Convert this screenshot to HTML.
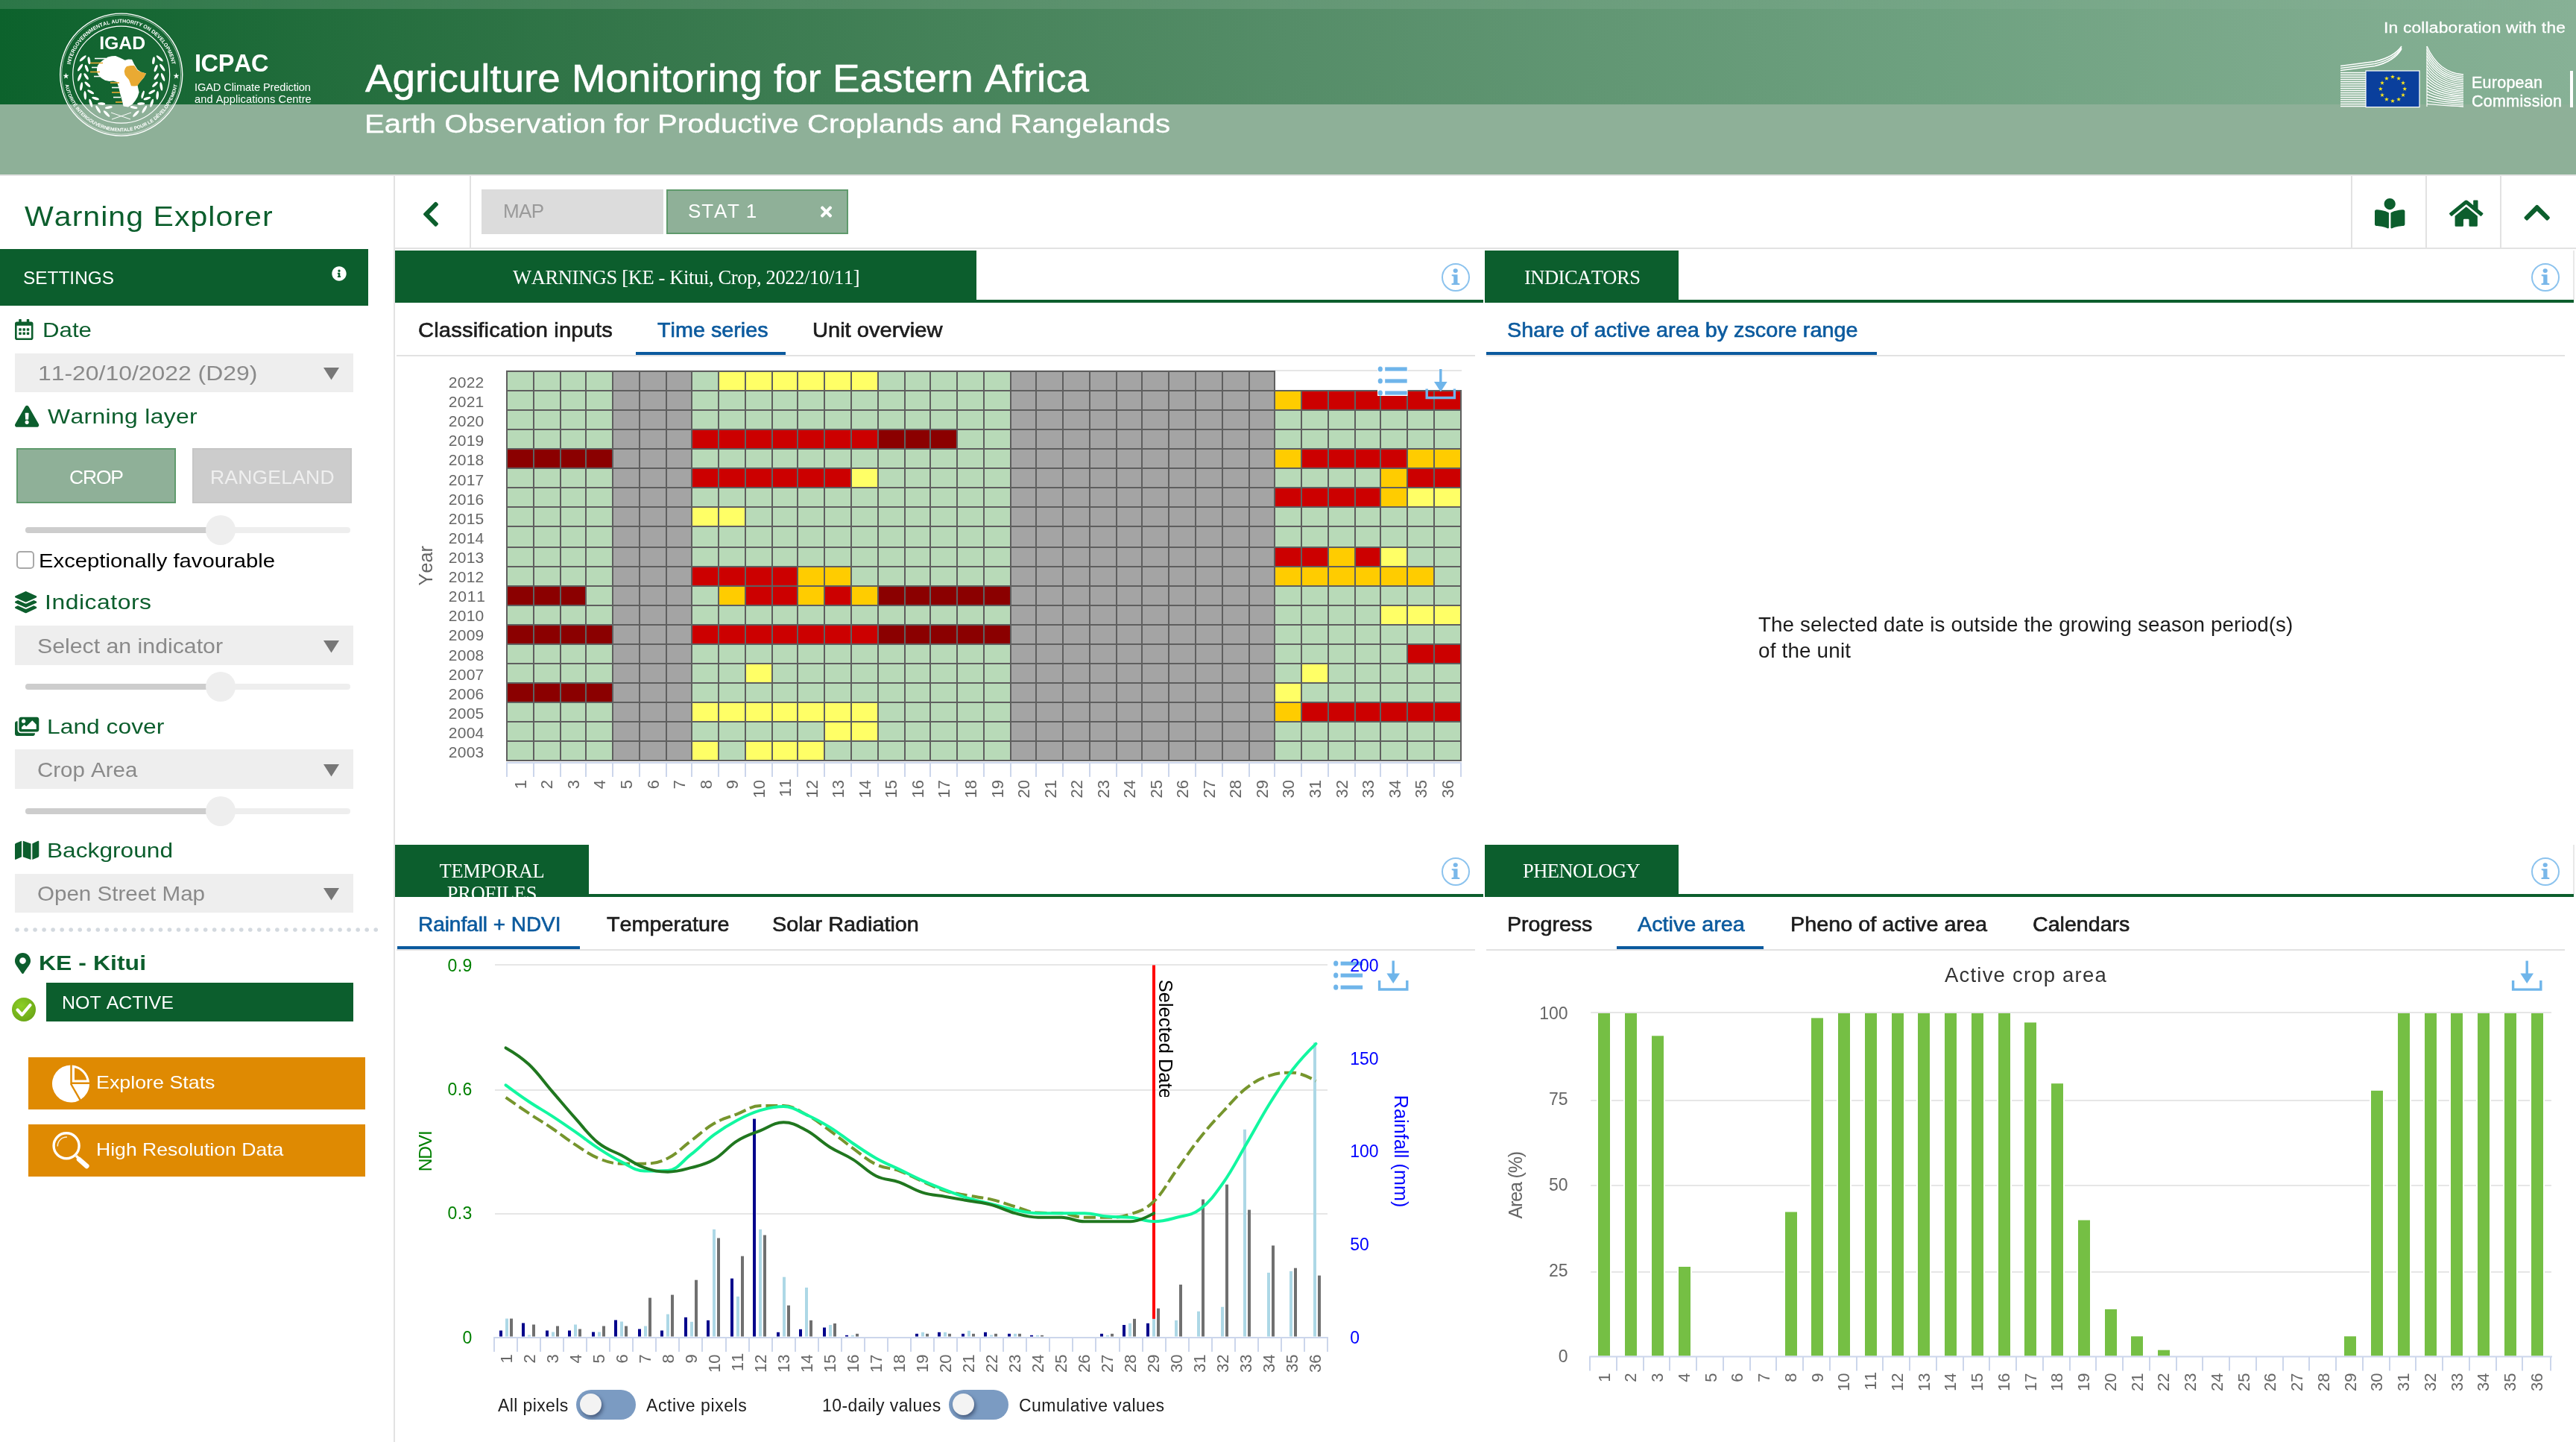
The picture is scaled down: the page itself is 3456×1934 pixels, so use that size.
<!DOCTYPE html>
<html lang="en"><head><meta charset="utf-8"><title>Agriculture Monitoring for Eastern Africa - Warning Explorer</title><style>
html,body{margin:0;padding:0;background:#fff;}
body{width:3456px;height:1934px;overflow:hidden;position:relative;font-family:"Liberation Sans",sans-serif;}
.t{position:absolute;white-space:nowrap;line-height:normal;font-kerning:none;will-change:transform;}
.b{position:absolute;}
svg{position:absolute;overflow:visible;will-change:transform;}
svg text{font-family:"Liberation Sans",sans-serif;font-kerning:none;}
</style></head><body>
<div class="b" id="header" style="left:0;top:0;width:3456px;height:234px;background:#8eb098;"></div>
<div class="b" style="left:0;top:0;width:3456px;height:140px;background:linear-gradient(to right,rgb(12,98,44) 0%,rgb(34,109,60) 12.5%,rgb(53,119,75) 25%,rgb(70,131,90) 37.5%,rgb(85,141,104) 50%,rgb(98,151,116) 62.5%,rgb(110,161,128) 75%,rgb(123,169,139) 87.5%,rgb(135,177,150) 100%);"></div>
<div class="b" style="left:0;top:0;width:3456px;height:12px;background:linear-gradient(to right,rgba(255,255,255,0.13) 0%,rgba(255,255,255,0.10) 25%,rgba(255,255,255,0.085) 50%,rgba(255,255,255,0.04) 78%,rgba(255,255,255,0) 100%);"></div>
<div class="b" style="left:0;top:234px;width:3456px;height:2px;background:#e3e3e3;"></div>
<svg style="left:0;top:0" width="520" height="234" viewBox="0 0 520 234"><circle cx="162.7" cy="100.1" r="82" fill="none" stroke="#fff" stroke-width="1.4"/><circle cx="162.7" cy="100.1" r="80" fill="none" stroke="#fff" stroke-width="0.7" opacity="0.8"/><circle cx="162.7" cy="100.1" r="65" fill="none" stroke="#fff" stroke-width="1.2"/><defs><path id="arcTop" d="M 93.41 94.65 A 69.5 69.5 0 0 1 231.99 94.65"/><path id="arcBot" d="M 86.64 106.09 A 76.3 76.3 0 0 0 238.76 106.09"/></defs><text font-size="7.0" font-weight="700" fill="#fff"><textPath href="#arcTop" startOffset="50%" text-anchor="middle">INTERGOVERNMENTAL AUTHORITY ON DEVELOPMENT</textPath></text><text font-size="6.45" font-weight="700" fill="#fff"><textPath href="#arcBot" startOffset="50%" text-anchor="middle">AUTORITÉ INTERGOUVERNEMENTALE POUR LE DÉVELOPPEMENT</textPath></text><polygon points="88.50,97.80 89.49,100.64 92.49,100.70 90.10,102.52 90.97,105.40 88.50,103.68 86.03,105.40 86.90,102.52 84.51,100.70 87.51,100.64" fill="#fff"/><polygon points="236.50,97.80 237.49,100.64 240.49,100.70 238.10,102.52 238.97,105.40 236.50,103.68 234.03,105.40 234.90,102.52 232.51,100.70 235.51,100.64" fill="#fff"/><text x="164.2" y="66.4" font-size="23.5" font-weight="700" fill="#fff" text-anchor="middle" textLength="62" lengthAdjust="spacingAndGlyphs">IGAD</text><path d="M144.6,76.5 L150,75.2 L155,75 L161,77.5 L167.7,80.7 L172,79.5 L177,79.7 L180,86 L184.5,93.3 L189,96.5 L196,98.5 L193,104 L188.7,109 L184.5,114 L185.5,119 L186.6,123.7 L184.5,130 L181.5,135 L178,139.4 L172,143.6 L165.6,142.5 L163.5,134 L161,125 L159.3,117.4 L157,110 L152,108.6 L146.7,109 L141,107.8 L136,104.8 L132,100.5 L130,96.4 L130,92 L131,88 L134,84 L138,80.7 Z" fill="#fff"/><path d="M166.7,95.4 L168,91.5 L170,89 L175,88 L180,88 L184.5,94.3 L189,96.5 L196,98.5 L193,104 L188.7,109 L184.5,115 L180,115.6 L176,115.3 L174.5,111 L173,107 L170,103.5 L167.7,100.6 Z" fill="#e9aa33"/><path d="M192.5,121.5 L194,122.5 L193.2,127 L191.6,131.5 L189.8,132.5 L189.3,129 L190.5,125 Z" fill="#fff"/><line x1="127" y1="78.5" x2="142" y2="78.5" stroke="#fff" stroke-width="1.6"/><line x1="121" y1="84.5" x2="138" y2="84.5" stroke="#e9aa33" stroke-width="1.6"/><line x1="123" y1="90.5" x2="136" y2="90.5" stroke="#fff" stroke-width="1.6"/><line x1="121" y1="96.5" x2="134" y2="96.5" stroke="#e9aa33" stroke-width="1.6"/><line x1="126" y1="102.5" x2="138" y2="102.5" stroke="#fff" stroke-width="1.6"/><line x1="148" y1="111" x2="160" y2="111" stroke="#e9aa33" stroke-width="1.6"/><line x1="150" y1="117.5" x2="161" y2="117.5" stroke="#fff" stroke-width="1.6"/><line x1="150" y1="124" x2="161" y2="124" stroke="#e9aa33" stroke-width="1.6"/><line x1="152" y1="130.5" x2="162" y2="130.5" stroke="#fff" stroke-width="1.6"/><line x1="155" y1="137" x2="164" y2="137" stroke="#e9aa33" stroke-width="1.6"/><ellipse cx="143.0" cy="152.5" rx="5.8" ry="1.75" fill="#fff" transform="rotate(-134 143.0 152.5)"/><ellipse cx="145.8" cy="144.1" rx="5.0" ry="1.75" fill="#fff" transform="rotate(-190 145.8 144.1)"/><ellipse cx="131.6" cy="146.6" rx="5.8" ry="1.75" fill="#fff" transform="rotate(-121 131.6 146.6)"/><ellipse cx="136.2" cy="139.1" rx="5.0" ry="1.75" fill="#fff" transform="rotate(-177 136.2 139.1)"/><ellipse cx="121.8" cy="138.3" rx="5.8" ry="1.75" fill="#fff" transform="rotate(-108 121.8 138.3)"/><ellipse cx="128.0" cy="132.0" rx="5.0" ry="1.75" fill="#fff" transform="rotate(-164 128.0 132.0)"/><ellipse cx="114.2" cy="127.9" rx="5.8" ry="1.75" fill="#fff" transform="rotate(-94 114.2 127.9)"/><ellipse cx="121.6" cy="123.2" rx="5.0" ry="1.75" fill="#fff" transform="rotate(-150 121.6 123.2)"/><ellipse cx="109.1" cy="116.1" rx="5.8" ry="1.75" fill="#fff" transform="rotate(-81 109.1 116.1)"/><ellipse cx="117.4" cy="113.2" rx="5.0" ry="1.75" fill="#fff" transform="rotate(-137 117.4 113.2)"/><ellipse cx="106.8" cy="103.5" rx="5.8" ry="1.75" fill="#fff" transform="rotate(-68 106.8 103.5)"/><ellipse cx="115.6" cy="102.5" rx="5.0" ry="1.75" fill="#fff" transform="rotate(-124 115.6 102.5)"/><ellipse cx="107.6" cy="90.6" rx="5.8" ry="1.75" fill="#fff" transform="rotate(-55 107.6 90.6)"/><ellipse cx="116.3" cy="91.7" rx="5.0" ry="1.75" fill="#fff" transform="rotate(-111 116.3 91.7)"/><ellipse cx="111.2" cy="78.3" rx="5.8" ry="1.75" fill="#fff" transform="rotate(-42 111.2 78.3)"/><ellipse cx="119.4" cy="81.3" rx="5.0" ry="1.75" fill="#fff" transform="rotate(-98 119.4 81.3)"/><ellipse cx="182.4" cy="152.5" rx="5.8" ry="1.75" fill="#fff" transform="rotate(314 182.4 152.5)"/><ellipse cx="179.6" cy="144.1" rx="5.0" ry="1.75" fill="#fff" transform="rotate(370 179.6 144.1)"/><ellipse cx="193.8" cy="146.6" rx="5.8" ry="1.75" fill="#fff" transform="rotate(301 193.8 146.6)"/><ellipse cx="189.2" cy="139.1" rx="5.0" ry="1.75" fill="#fff" transform="rotate(357 189.2 139.1)"/><ellipse cx="203.6" cy="138.3" rx="5.8" ry="1.75" fill="#fff" transform="rotate(288 203.6 138.3)"/><ellipse cx="197.4" cy="132.0" rx="5.0" ry="1.75" fill="#fff" transform="rotate(344 197.4 132.0)"/><ellipse cx="211.2" cy="127.9" rx="5.8" ry="1.75" fill="#fff" transform="rotate(274 211.2 127.9)"/><ellipse cx="203.8" cy="123.2" rx="5.0" ry="1.75" fill="#fff" transform="rotate(330 203.8 123.2)"/><ellipse cx="216.3" cy="116.1" rx="5.8" ry="1.75" fill="#fff" transform="rotate(261 216.3 116.1)"/><ellipse cx="208.0" cy="113.2" rx="5.0" ry="1.75" fill="#fff" transform="rotate(317 208.0 113.2)"/><ellipse cx="218.6" cy="103.5" rx="5.8" ry="1.75" fill="#fff" transform="rotate(248 218.6 103.5)"/><ellipse cx="209.8" cy="102.5" rx="5.0" ry="1.75" fill="#fff" transform="rotate(304 209.8 102.5)"/><ellipse cx="217.8" cy="90.6" rx="5.8" ry="1.75" fill="#fff" transform="rotate(235 217.8 90.6)"/><ellipse cx="209.1" cy="91.7" rx="5.0" ry="1.75" fill="#fff" transform="rotate(291 209.1 91.7)"/><ellipse cx="214.2" cy="78.3" rx="5.8" ry="1.75" fill="#fff" transform="rotate(222 214.2 78.3)"/><ellipse cx="206.0" cy="81.3" rx="5.0" ry="1.75" fill="#fff" transform="rotate(278 206.0 81.3)"/><path d="M150,160 L176,151 M175,160 L149,151" stroke="#fff" stroke-width="1" fill="none"/></svg>
<span class="t" style="left:261.0px;top:67.2px;font-size:32.5px;color:#fff;letter-spacing:-0.43px;font-weight:700;">ICPAC</span>
<span class="t" style="left:261.0px;top:109.2px;font-size:14.6px;color:#fff;letter-spacing:-0.10px;">IGAD Climate Prediction</span>
<span class="t" style="left:261.0px;top:125.1px;font-size:14.6px;color:#fff;letter-spacing:0.08px;">and Applications Centre</span>
<span class="t" style="left:489.8px;top:75.8px;font-size:51px;color:#fff;transform:scaleX(1.0739);transform-origin:0 0;-webkit-text-stroke:0.5px #fff;">Agriculture Monitoring for Eastern Africa</span>
<span class="t" style="left:488.5px;top:145.5px;font-size:35.5px;color:#fff;transform:scaleX(1.1318);transform-origin:0 0;-webkit-text-stroke:0.35px #fff;">Earth Observation for Productive Croplands and Rangelands</span>
<span class="t" style="left:3198.0px;top:25.5px;font-size:20px;color:#fff;letter-spacing:0.16px;transform:scaleX(1.1400);transform-origin:0 0;-webkit-text-stroke:0.3px #fff;">In collaboration with the</span>
<span class="t" style="left:3316.0px;top:98.5px;font-size:21.5px;color:#fff;letter-spacing:0.25px;-webkit-text-stroke:0.45px #fff;">European</span>
<span class="t" style="left:3316.0px;top:124.1px;font-size:21.5px;color:#fff;letter-spacing:0.30px;-webkit-text-stroke:0.45px #fff;">Commission</span>
<div class="b" style="left:3448px;top:95px;width:4px;height:49px;background:#fff;"></div>
<svg style="left:3130px;top:55px" width="190" height="95" viewBox="3130 55 190 95"><path d="M3140,88.5 L3186,82.5 Q3212,76.5 3222,62.0" stroke="#fff" stroke-width="1.5" fill="none"/><path d="M3140,91.5 L3186,85.5 Q3212,79.5 3222,63.8" stroke="#fff" stroke-width="1.5" fill="none"/><path d="M3140,94.5 L3186,88.5 Q3212,82.5 3222,65.5" stroke="#fff" stroke-width="1.5" fill="none"/><path d="M3140,97.5 L3174,97.5" stroke="#fff" stroke-width="1.7" fill="none"/><path d="M3140,100.5 L3174,100.5" stroke="#fff" stroke-width="1.7" fill="none"/><path d="M3140,103.5 L3174,103.5" stroke="#fff" stroke-width="1.7" fill="none"/><path d="M3140,106.5 L3174,106.5" stroke="#fff" stroke-width="1.7" fill="none"/><path d="M3140,109.5 L3174,109.5" stroke="#fff" stroke-width="1.7" fill="none"/><path d="M3140,112.5 L3174,112.5" stroke="#fff" stroke-width="1.7" fill="none"/><path d="M3140,115.5 L3174,115.5" stroke="#fff" stroke-width="1.7" fill="none"/><path d="M3140,118.5 L3174,118.5" stroke="#fff" stroke-width="1.7" fill="none"/><path d="M3140,121.5 L3174,121.5" stroke="#fff" stroke-width="1.7" fill="none"/><path d="M3140,124.5 L3174,124.5" stroke="#fff" stroke-width="1.7" fill="none"/><path d="M3140,127.5 L3174,127.5" stroke="#fff" stroke-width="1.7" fill="none"/><path d="M3140,130.5 L3174,130.5" stroke="#fff" stroke-width="1.7" fill="none"/><path d="M3140,133.5 L3174,133.5" stroke="#fff" stroke-width="1.7" fill="none"/><path d="M3140,136.5 L3174,136.5" stroke="#fff" stroke-width="1.7" fill="none"/><path d="M3140,139.5 L3174,139.5" stroke="#fff" stroke-width="1.7" fill="none"/><path d="M3140,142.5 L3174,142.5" stroke="#fff" stroke-width="1.7" fill="none"/><path d="M3256,62.0 Q3272,98.0 3305,100.0" stroke="#fff" stroke-width="1.4" fill="none"/><path d="M3256,66.3 Q3272,100.4 3305,102.4" stroke="#fff" stroke-width="1.4" fill="none"/><path d="M3256,70.6 Q3272,102.8 3305,104.8" stroke="#fff" stroke-width="1.4" fill="none"/><path d="M3256,74.9 Q3272,105.2 3305,107.2" stroke="#fff" stroke-width="1.4" fill="none"/><path d="M3256,79.2 Q3272,107.6 3305,109.6" stroke="#fff" stroke-width="1.4" fill="none"/><path d="M3256,83.5 Q3272,110.0 3305,112.0" stroke="#fff" stroke-width="1.4" fill="none"/><path d="M3256,87.8 Q3272,112.4 3305,114.4" stroke="#fff" stroke-width="1.4" fill="none"/><path d="M3256,92.1 Q3272,114.8 3305,116.8" stroke="#fff" stroke-width="1.4" fill="none"/><path d="M3256,96.4 Q3272,117.2 3305,119.2" stroke="#fff" stroke-width="1.4" fill="none"/><path d="M3256,100.7 Q3272,119.6 3305,121.6" stroke="#fff" stroke-width="1.4" fill="none"/><path d="M3256,105.0 Q3272,122.0 3305,124.0" stroke="#fff" stroke-width="1.4" fill="none"/><path d="M3256,109.3 Q3272,124.4 3305,126.4" stroke="#fff" stroke-width="1.4" fill="none"/><path d="M3256,113.6 Q3272,126.8 3305,128.8" stroke="#fff" stroke-width="1.4" fill="none"/><path d="M3256,117.9 Q3272,129.2 3305,131.2" stroke="#fff" stroke-width="1.4" fill="none"/><path d="M3256,122.2 Q3272,131.6 3305,133.6" stroke="#fff" stroke-width="1.4" fill="none"/><path d="M3256,126.5 Q3272,134.0 3305,136.0" stroke="#fff" stroke-width="1.4" fill="none"/><path d="M3256,130.8 Q3272,136.4 3305,138.4" stroke="#fff" stroke-width="1.4" fill="none"/><path d="M3256,135.1 Q3272,138.8 3305,140.8" stroke="#fff" stroke-width="1.4" fill="none"/><path d="M3256,139.4 Q3272,141.0 3305,143.0" stroke="#fff" stroke-width="1.4" fill="none"/><path d="M3256,62 L3256,143" stroke="#fff" stroke-width="1.2"/><rect x="3174" y="95" width="72" height="48.6" fill="#0a3f9c" stroke="#fff" stroke-width="1.2"/><polygon points="3210.00,100.00 3210.73,102.10 3212.95,102.14 3211.18,103.48 3211.82,105.61 3210.00,104.34 3208.18,105.61 3208.82,103.48 3207.05,102.14 3209.27,102.10" fill="#ffe81a"/><polygon points="3218.10,102.17 3218.83,104.27 3221.05,104.31 3219.28,105.65 3219.92,107.78 3218.10,106.51 3216.28,107.78 3216.92,105.65 3215.15,104.31 3217.37,104.27" fill="#ffe81a"/><polygon points="3224.03,108.10 3224.76,110.20 3226.98,110.24 3225.21,111.58 3225.85,113.71 3224.03,112.44 3222.21,113.71 3222.85,111.58 3221.08,110.24 3223.30,110.20" fill="#ffe81a"/><polygon points="3226.20,116.20 3226.93,118.30 3229.15,118.34 3227.38,119.68 3228.02,121.81 3226.20,120.54 3224.38,121.81 3225.02,119.68 3223.25,118.34 3225.47,118.30" fill="#ffe81a"/><polygon points="3224.03,124.30 3224.76,126.40 3226.98,126.44 3225.21,127.78 3225.85,129.91 3224.03,128.64 3222.21,129.91 3222.85,127.78 3221.08,126.44 3223.30,126.40" fill="#ffe81a"/><polygon points="3218.10,130.23 3218.83,132.33 3221.05,132.37 3219.28,133.71 3219.92,135.84 3218.10,134.57 3216.28,135.84 3216.92,133.71 3215.15,132.37 3217.37,132.33" fill="#ffe81a"/><polygon points="3210.00,132.40 3210.73,134.50 3212.95,134.54 3211.18,135.88 3211.82,138.01 3210.00,136.74 3208.18,138.01 3208.82,135.88 3207.05,134.54 3209.27,134.50" fill="#ffe81a"/><polygon points="3201.90,130.23 3202.63,132.33 3204.85,132.37 3203.08,133.71 3203.72,135.84 3201.90,134.57 3200.08,135.84 3200.72,133.71 3198.95,132.37 3201.17,132.33" fill="#ffe81a"/><polygon points="3195.97,124.30 3196.70,126.40 3198.92,126.44 3197.15,127.78 3197.79,129.91 3195.97,128.64 3194.15,129.91 3194.79,127.78 3193.02,126.44 3195.24,126.40" fill="#ffe81a"/><polygon points="3193.80,116.20 3194.53,118.30 3196.75,118.34 3194.98,119.68 3195.62,121.81 3193.80,120.54 3191.98,121.81 3192.62,119.68 3190.85,118.34 3193.07,118.30" fill="#ffe81a"/><polygon points="3195.97,108.10 3196.70,110.20 3198.92,110.24 3197.15,111.58 3197.79,113.71 3195.97,112.44 3194.15,113.71 3194.79,111.58 3193.02,110.24 3195.24,110.20" fill="#ffe81a"/><polygon points="3201.90,102.17 3202.63,104.27 3204.85,104.31 3203.08,105.65 3203.72,107.78 3201.90,106.51 3200.08,107.78 3200.72,105.65 3198.95,104.31 3201.17,104.27" fill="#ffe81a"/></svg>
<div class="b" style="left:528px;top:236px;width:2px;height:1698px;background:#e2e2e2;"></div>
<span class="t" style="left:33.0px;top:270.2px;font-size:36px;color:#0c5e2d;letter-spacing:0.91px;transform:scaleX(1.1400);transform-origin:0 0;">Warning Explorer</span>
<div class="b" style="left:0px;top:334px;width:494px;height:76px;background:#0c5e2d;"></div>
<span class="t" style="left:30.5px;top:359.3px;font-size:24px;color:#fff;transform:scaleX(1.0166);transform-origin:0 0;">SETTINGS</span>
<svg style="left:444.7px;top:357.4px" width="20.00" height="20" viewBox="0 0 512 512"><path fill="#fff" d="M256 8C119.043 8 8 119.083 8 256c0 136.997 111.043 248 248 248s248-111.003 248-248C504 119.083 392.957 8 256 8zm0 110c23.196 0 42 18.804 42 42s-18.804 42-42 42-42-18.804-42-42 18.804-42 42-42zm56 254c0 6.627-5.373 12-12 12h-88c-6.627 0-12-5.373-12-12v-24c0-6.627 5.373-12 12-12h12v-64h-12c-6.627 0-12-5.373-12-12v-24c0-6.627 5.373-12 12-12h64c6.627 0 12 5.373 12 12v100h12c6.627 0 12 5.373 12 12v24z"/></svg>
<svg style="left:20.0px;top:428.4px" width="24.50" height="28" viewBox="0 0 448 512"><path fill="#0c5e2d" d="M148 288h-40c-6.600 0-12-5.400-12-12v-40c0-6.600 5.400-12 12-12h40c6.600 0 12 5.400 12 12v40c0 6.600-5.400 12-12 12zm108-12v-40c0-6.600-5.400-12-12-12h-40c-6.600 0-12 5.400-12 12v40c0 6.600 5.400 12 12 12h40c6.600 0 12-5.400 12-12zm96 0v-40c0-6.600-5.400-12-12-12h-40c-6.600 0-12 5.400-12 12v40c0 6.600 5.400 12 12 12h40c6.600 0 12-5.400 12-12zm-96 96v-40c0-6.600-5.400-12-12-12h-40c-6.600 0-12 5.400-12 12v40c0 6.600 5.400 12 12 12h40c6.600 0 12-5.400 12-12zm-96 0v-40c0-6.600-5.400-12-12-12h-40c-6.600 0-12 5.400-12 12v40c0 6.600 5.400 12 12 12h40c6.600 0 12-5.400 12-12zm192 0v-40c0-6.600-5.400-12-12-12h-40c-6.600 0-12 5.400-12 12v40c0 6.600 5.400 12 12 12h40c6.600 0 12-5.400 12-12zm96-260v352c0 26.500-21.500 48-48 48H48c-26.500 0-48-21.500-48-48V112c0-26.500 21.500-48 48-48h48V12c0-6.600 5.400-12 12-12h40c6.600 0 12 5.400 12 12v52h128V12c0-6.600 5.400-12 12-12h40c6.600 0 12 5.400 12 12v52h48c26.500 0 48 21.500 48 48zm-48 346V160H48v298c0 3.300 2.700 6 6 6h340c3.300 0 6-2.700 6-6z"/></svg>
<span class="t" style="left:56.5px;top:426.7px;font-size:28px;color:#0c5e2d;transform:scaleX(1.1159);transform-origin:0 0;">Date</span>
<div class="b" style="left:20px;top:473.5px;width:454px;height:52.5px;background:#eeeeee;"></div>
<span class="t" style="left:51.3px;top:485.0px;font-size:28px;color:#8a8a8a;transform:scaleX(1.1392);transform-origin:0 0;">11-20/10/2022 (D29)</span>
<svg style="left:434px;top:493px" width="21" height="17" viewBox="0 0 21 17"><path d="M0,0 L21,0 L10.5,16.5 Z" fill="#777"/></svg>
<svg style="left:20.0px;top:544.0px" width="32.29" height="28.7" viewBox="0 0 576 512"><path fill="#0c5e2d" d="M569.517 440.013C587.975 472.007 564.806 512 527.940 512H48.054c-36.937 0-59.999-40.055-41.577-71.987L246.423 23.985c18.467-32.009 64.720-31.951 83.154 0l239.940 416.028zM288 354c-25.405 0-46 20.595-46 46s20.595 46 46 46 46-20.595 46-46-20.595-46-46-46zm-43.673-165.346l7.418 136c.347 6.364 5.609 11.346 11.982 11.346h48.546c6.373 0 11.635-4.982 11.982-11.346l7.418-136c.375-6.874-5.098-12.654-11.982-12.654h-63.383c-6.884 0-12.356 5.780-11.981 12.654z"/></svg>
<span class="t" style="left:63.5px;top:542.7px;font-size:28px;color:#0c5e2d;letter-spacing:0.28px;transform:scaleX(1.1400);transform-origin:0 0;">Warning layer</span>
<div class="b" style="left:22px;top:601px;width:214px;height:74px;box-sizing:border-box;background:#8fb098;border:2px solid #5f9a6c;"></div>
<span class="t" style="left:92.7px;top:624.6px;font-size:26.5px;color:#fff;letter-spacing:-1.19px;">CROP</span>
<div class="b" style="left:258px;top:601px;width:214px;height:74px;background:#cccccc;box-shadow:inset 0 0 0 2px #c6c6c6;"></div>
<span class="t" style="left:281.6px;top:624.6px;font-size:26.5px;color:#efefef;letter-spacing:0.20px;">RANGELAND</span>
<div class="b" style="left:34px;top:707px;width:436px;height:8px;border-radius:4px;background:#eeeeee;"></div>
<div class="b" style="left:34px;top:707px;width:262px;height:8px;border-radius:4px 0 0 4px;background:#cdcdcd;"></div>
<div class="b" style="left:276px;top:691px;width:40px;height:40px;border-radius:50%;background:#eeeeee;"></div>
<div class="b" style="left:22px;top:739px;width:24px;height:24px;box-sizing:border-box;border:2px solid #a9a9a9;border-radius:5px;background:#fff;"></div>
<span class="t" style="left:52.2px;top:736.8px;font-size:26px;color:#000;transform:scaleX(1.1248);transform-origin:0 0;">Exceptionally favourable</span>
<svg style="left:19.8px;top:792.5px" width="29.30" height="29.3" viewBox="0 0 512 512"><path fill="#0c5e2d" d="M12.41 148.02l232.940 105.670c6.800 3.090 14.490 3.090 21.290 0l232.940-105.670c16.550-7.510 16.550-32.520 0-40.030L266.650 2.310a25.607 25.607 0 0 0-21.290 0L12.410 107.980c-16.550 7.510-16.550 32.530 0 40.040zm487.180 88.280l-58.090-26.330-161.640 73.270c-7.560 3.430-15.590 5.170-23.860 5.170s-16.290-1.740-23.860-5.170L70.510 209.970l-58.100 26.330c-16.550 7.500-16.550 32.500 0 40l232.940 105.590c6.800 3.080 14.490 3.080 21.290 0L499.590 276.300c16.550-7.500 16.550-32.500 0-40zm0 127.800l-57.870-26.230-161.860 73.370c-7.560 3.430-15.590 5.170-23.860 5.170s-16.290-1.740-23.860-5.170L70.290 337.870 12.410 364.100c-16.550 7.500-16.550 32.500 0 40l232.940 105.590c6.800 3.080 14.490 3.080 21.290 0L499.590 404.100c16.550-7.500 16.550-32.500 0-40z"/></svg>
<span class="t" style="left:60.0px;top:792.2px;font-size:28px;color:#0c5e2d;letter-spacing:0.45px;transform:scaleX(1.1400);transform-origin:0 0;">Indicators</span>
<div class="b" style="left:20px;top:839px;width:454px;height:52.5px;background:#eeeeee;"></div>
<span class="t" style="left:50.3px;top:850.7px;font-size:28px;color:#8a8a8a;transform:scaleX(1.0809);transform-origin:0 0;">Select an indicator</span>
<svg style="left:434px;top:858.5px" width="21" height="17" viewBox="0 0 21 17"><path d="M0,0 L21,0 L10.5,16.5 Z" fill="#777"/></svg>
<div class="b" style="left:34px;top:917px;width:436px;height:8px;border-radius:4px;background:#eeeeee;"></div>
<div class="b" style="left:34px;top:917px;width:262px;height:8px;border-radius:4px 0 0 4px;background:#cdcdcd;"></div>
<div class="b" style="left:276px;top:901px;width:40px;height:40px;border-radius:50%;background:#eeeeee;"></div>
<svg style="left:19.8px;top:959.8px" width="32.29" height="28.7" viewBox="0 0 576 512"><path fill="#0c5e2d" d="M480 416v16c0 26.510-21.490 48-48 48H48c-26.510 0-48-21.490-48-48V176c0-26.510 21.490-48 48-48h16v208c0 44.112 35.888 80 80 80h336zm96-80V80c0-26.510-21.490-48-48-48H144c-26.510 0-48 21.490-48 48v256c0 26.510 21.490 48 48 48h384c26.510 0 48-21.490 48-48zM256 128c0 26.510-21.490 48-48 48s-48-21.490-48-48 21.490-48 48-48 48 21.490 48 48zm-96 144l55.515-55.515c4.686-4.686 12.284-4.686 16.971 0L272 256l135.515-135.515c4.686-4.686 12.284-4.686 16.971 0L512 208v112H160v-48z"/></svg>
<span class="t" style="left:63.0px;top:958.7px;font-size:28px;color:#0c5e2d;transform:scaleX(1.1362);transform-origin:0 0;">Land cover</span>
<div class="b" style="left:20px;top:1005px;width:454px;height:52.5px;background:#eeeeee;"></div>
<span class="t" style="left:50.3px;top:1016.7px;font-size:28px;color:#8a8a8a;transform:scaleX(1.0526);transform-origin:0 0;">Crop Area</span>
<svg style="left:434px;top:1024.5px" width="21" height="17" viewBox="0 0 21 17"><path d="M0,0 L21,0 L10.5,16.5 Z" fill="#777"/></svg>
<div class="b" style="left:34px;top:1084px;width:436px;height:8px;border-radius:4px;background:#eeeeee;"></div>
<div class="b" style="left:34px;top:1084px;width:262px;height:8px;border-radius:4px 0 0 4px;background:#cdcdcd;"></div>
<div class="b" style="left:276px;top:1068px;width:40px;height:40px;border-radius:50%;background:#eeeeee;"></div>
<svg style="left:19.8px;top:1126.2px" width="32.29" height="28.7" viewBox="0 0 576 512"><path fill="#0c5e2d" d="M0 117.660v346.320c0 11.320 11.430 19.060 21.940 14.860L160 416V32L20.120 87.950A32.006 32.006 0 0 0 0 117.660zM192 416l192 64V96L192 32v384zM554.060 33.160L416 96v384l139.880-55.950A31.996 31.996 0 0 0 576 394.340V48.020c0-11.320-11.430-19.060-21.940-14.860z"/></svg>
<span class="t" style="left:63.0px;top:1124.7px;font-size:28px;color:#0c5e2d;transform:scaleX(1.1309);transform-origin:0 0;">Background</span>
<div class="b" style="left:20px;top:1171.5px;width:454px;height:52.0px;background:#eeeeee;"></div>
<span class="t" style="left:50.3px;top:1183.1px;font-size:28px;color:#8a8a8a;transform:scaleX(1.0552);transform-origin:0 0;">Open Street Map</span>
<svg style="left:434px;top:1190.5px" width="21" height="17" viewBox="0 0 21 17"><path d="M0,0 L21,0 L10.5,16.5 Z" fill="#777"/></svg>
<svg style="left:0;top:1244px" width="528" height="6" viewBox="0 0 528 6"><circle cx="23.00" cy="3" r="2.8" fill="#d3d9df"/><circle cx="35.03" cy="3" r="2.8" fill="#d3d9df"/><circle cx="47.06" cy="3" r="2.8" fill="#d3d9df"/><circle cx="59.09" cy="3" r="2.8" fill="#d3d9df"/><circle cx="71.12" cy="3" r="2.8" fill="#d3d9df"/><circle cx="83.15" cy="3" r="2.8" fill="#d3d9df"/><circle cx="95.18" cy="3" r="2.8" fill="#d3d9df"/><circle cx="107.21" cy="3" r="2.8" fill="#d3d9df"/><circle cx="119.24" cy="3" r="2.8" fill="#d3d9df"/><circle cx="131.27" cy="3" r="2.8" fill="#d3d9df"/><circle cx="143.30" cy="3" r="2.8" fill="#d3d9df"/><circle cx="155.33" cy="3" r="2.8" fill="#d3d9df"/><circle cx="167.36" cy="3" r="2.8" fill="#d3d9df"/><circle cx="179.39" cy="3" r="2.8" fill="#d3d9df"/><circle cx="191.42" cy="3" r="2.8" fill="#d3d9df"/><circle cx="203.45" cy="3" r="2.8" fill="#d3d9df"/><circle cx="215.48" cy="3" r="2.8" fill="#d3d9df"/><circle cx="227.51" cy="3" r="2.8" fill="#d3d9df"/><circle cx="239.54" cy="3" r="2.8" fill="#d3d9df"/><circle cx="251.57" cy="3" r="2.8" fill="#d3d9df"/><circle cx="263.60" cy="3" r="2.8" fill="#d3d9df"/><circle cx="275.63" cy="3" r="2.8" fill="#d3d9df"/><circle cx="287.66" cy="3" r="2.8" fill="#d3d9df"/><circle cx="299.69" cy="3" r="2.8" fill="#d3d9df"/><circle cx="311.72" cy="3" r="2.8" fill="#d3d9df"/><circle cx="323.75" cy="3" r="2.8" fill="#d3d9df"/><circle cx="335.78" cy="3" r="2.8" fill="#d3d9df"/><circle cx="347.81" cy="3" r="2.8" fill="#d3d9df"/><circle cx="359.84" cy="3" r="2.8" fill="#d3d9df"/><circle cx="371.87" cy="3" r="2.8" fill="#d3d9df"/><circle cx="383.90" cy="3" r="2.8" fill="#d3d9df"/><circle cx="395.93" cy="3" r="2.8" fill="#d3d9df"/><circle cx="407.96" cy="3" r="2.8" fill="#d3d9df"/><circle cx="419.99" cy="3" r="2.8" fill="#d3d9df"/><circle cx="432.02" cy="3" r="2.8" fill="#d3d9df"/><circle cx="444.05" cy="3" r="2.8" fill="#d3d9df"/><circle cx="456.08" cy="3" r="2.8" fill="#d3d9df"/><circle cx="468.11" cy="3" r="2.8" fill="#d3d9df"/><circle cx="480.14" cy="3" r="2.8" fill="#d3d9df"/><circle cx="492.17" cy="3" r="2.8" fill="#d3d9df"/><circle cx="504.20" cy="3" r="2.8" fill="#d3d9df"/></svg>
<svg style="left:19.7px;top:1277.6px" width="21.00" height="28" viewBox="0 0 384 512"><path fill="#0c5e2d" d="M172.268 501.670C26.970 291.031 0 269.413 0 192 0 85.961 85.961 0 192 0s192 85.961 192 192c0 77.413-26.970 99.031-172.268 309.670-9.535 13.774-29.930 13.773-39.464 0zM192 272c44.183 0 80-35.817 80-80s-35.817-80-80-80-80 35.817-80 80 35.817 80 80 80z"/></svg>
<span class="t" style="left:52.0px;top:1276.4px;font-size:28px;color:#0c5e2d;letter-spacing:0.04px;transform:scaleX(1.1400);transform-origin:0 0;font-weight:700;">KE - Kitui</span>
<div class="b" style="left:62px;top:1318px;width:412px;height:52px;background:#0c5e2d;"></div>
<span class="t" style="left:82.5px;top:1331.3px;font-size:24px;color:#fff;transform:scaleX(1.0404);transform-origin:0 0;">NOT ACTIVE</span>
<svg style="left:14px;top:1336px" width="36" height="36" viewBox="0 0 36 36"><defs><radialGradient id="gck" cx="40%" cy="35%" r="70%"><stop offset="0" stop-color="#8ccf25"/><stop offset="1" stop-color="#6aa517"/></radialGradient></defs><circle cx="18" cy="18" r="16" fill="url(#gck)"/><path d="M9.5,18.5 L15.5,25 L26.5,12" stroke="#fff" stroke-width="4.2" fill="none" stroke-linecap="round" stroke-linejoin="round"/></svg>
<div class="b" style="left:38px;top:1418px;width:452px;height:70px;background:#df8a02;"></div>
<div class="b" style="left:38px;top:1508px;width:452px;height:70px;background:#df8a02;"></div>
<svg style="left:69px;top:1427px" width="52" height="52" viewBox="0 0 52 52"><path d="M26,26.5 L26,1.5 A25,25 0 1 0 38.5,48.15 Z" fill="#fff"/><path d="M26,26.5 L51,26.5 A25,25 0 0 1 38.5,48.15 Z" fill="#fff"/><path d="M26,26.5 L38.9,48.8" stroke="#df8a02" stroke-width="2.4" fill="none"/><path d="M27.6,24.6 L27.6,1.55 A25,25 0 0 1 51,24.6 Z" fill="#fff"/><path d="M31,21.4 L31,5.2 A21.5,21.5 0 0 1 47.3,21.4 Z" fill="#df8a02"/><path d="M26.3,0 L26.3,26 L52,26" stroke="#df8a02" stroke-width="2" fill="none"/></svg>
<span class="t" style="left:129.3px;top:1438.3px;font-size:24px;color:#fff;transform:scaleX(1.1175);transform-origin:0 0;">Explore Stats</span>
<svg style="left:69px;top:1517px" width="52" height="52" viewBox="0 0 52 52"><circle cx="20.1" cy="19.8" r="17" fill="none" stroke="#fff" stroke-width="3.4"/><path d="M8.3,20.5 A12.2,12.2 0 0 1 21,8" fill="none" stroke="#fff" stroke-width="1.5" opacity="0.85"/><path d="M33.2,33.2 L36,36" stroke="#fff" stroke-width="3.6"/><path d="M37,37.8 L47.4,47" stroke="#fff" stroke-width="6.4" stroke-linecap="round"/></svg>
<span class="t" style="left:129.3px;top:1528.3px;font-size:24px;color:#fff;transform:scaleX(1.1085);transform-origin:0 0;">High Resolution Data</span>
<div class="b" style="left:530px;top:332px;width:2926px;height:2px;background:#e2e2e2;"></div>
<div class="b" style="left:630px;top:236px;width:2px;height:96px;background:#e2e2e2;"></div>
<div class="b" style="left:3154px;top:236px;width:2px;height:96px;background:#e2e2e2;"></div>
<div class="b" style="left:3254px;top:236px;width:2px;height:96px;background:#e2e2e2;"></div>
<div class="b" style="left:3354px;top:236px;width:2px;height:96px;background:#e2e2e2;"></div>
<svg style="left:565.5px;top:268.2px" width="24.06" height="38.5" viewBox="0 0 320 512"><path fill="#0c5e2d" d="M34.520 239.030L228.870 44.690c9.370-9.370 24.570-9.370 33.940 0l22.670 22.670c9.360 9.360 9.370 24.520.040 33.900L131.490 256l154.020 154.750c9.340 9.380 9.320 24.540-.040 33.900l-22.670 22.670c-9.370 9.370-24.570 9.370-33.940 0L34.520 272.970c-9.370-9.370-9.370-24.570 0-33.940z"/></svg>
<svg style="left:3185.7px;top:266.0px" width="40.40" height="40.4" viewBox="0 0 512 512"><path fill="#0c5e2d" d="M352 96c0-53.020-42.980-96-96-96s-96 42.980-96 96 42.980 96 96 96 96-42.980 96-96zM233.590 241.100c-59.330-36.320-155.430-46.300-203.790-49.050C13.550 191.130 0 203.510 0 219.140v222.800c0 14.330 11.590 26.280 26.490 27.050 43.660 2.290 131.990 10.680 193.040 41.430 9.370 4.720 20.480-1.710 20.480-11.870V252.560c-.010-4.670-2.320-8.950-6.420-11.460zm248.610-49.050c-48.350 2.740-144.460 12.730-203.780 49.050-4.100 2.510-6.410 6.960-6.410 11.630v245.790c0 10.190 11.140 16.630 20.540 11.900 61.040-30.720 149.320-39.110 192.970-41.400 14.900-.78 26.490-12.730 26.490-27.060V219.140c-.010-15.630-13.560-28.010-29.810-27.090z"/></svg>
<svg style="left:3285.5px;top:265.6px" width="45.45" height="40.4" viewBox="0 0 576 512"><path fill="#0c5e2d" d="M280.370 148.260L96 300.110V464a16 16 0 0 0 16 16l112.060-.290a16 16 0 0 0 15.920-16V368a16 16 0 0 1 16-16h64a16 16 0 0 1 16 16v95.640a16 16 0 0 0 16 16.050L464 480a16 16 0 0 0 16-16V300L295.670 148.260a12.190 12.190 0 0 0-15.300 0zM571.600 251.470L488 182.560V44.050a12 12 0 0 0-12-12h-56a12 12 0 0 0-12 12v72.610L318.470 43a48 48 0 0 0-61 0L4.340 251.470a12 12 0 0 0-1.600 16.900l25.500 31A12 12 0 0 0 45.150 301l235.220-193.740a12.190 12.190 0 0 1 15.300 0L530.900 301a12 12 0 0 0 16.900-1.600l25.500-31a12 12 0 0 0-1.700-16.930z"/></svg>
<svg style="left:3386.0px;top:265.2px" width="35.35" height="40.4" viewBox="0 0 448 512"><path fill="#0c5e2d" d="M240.971 130.524l194.343 194.343c9.373 9.373 9.373 24.569 0 33.941l-22.667 22.667c-9.357 9.357-24.522 9.375-33.901.040L224 227.495 69.255 381.516c-9.379 9.335-24.544 9.317-33.901-.040l-22.667-22.667c-9.373-9.373-9.373-24.569 0-33.941L207.030 130.525c9.372-9.373 24.568-9.373 33.941-.001z"/></svg>
<div class="b" style="left:646px;top:254px;width:244px;height:60px;background:#dcdcdc;"></div>
<span class="t" style="left:674.5px;top:268.1px;font-size:26px;color:#9a9a9a;letter-spacing:-0.67px;">MAP</span>
<div class="b" style="left:894px;top:254px;width:244px;height:60px;box-sizing:border-box;background:#8fb098;border:2px solid #5f9a6c;"></div>
<span class="t" style="left:922.5px;top:268.1px;font-size:26px;color:#fff;letter-spacing:0.84px;">STAT 1</span>
<svg style="left:1100.6px;top:272.9px" width="15.12" height="22" viewBox="0 0 352 512"><path fill="#fff" d="M242.720 256l100.070-100.070c12.280-12.280 12.280-32.190 0-44.480l-22.240-22.240c-12.280-12.280-32.190-12.280-44.480 0L176 189.280 75.930 89.210c-12.280-12.280-32.190-12.280-44.480 0L9.210 111.450c-12.280 12.280-12.280 32.190 0 44.480L109.280 256 9.210 356.070c-12.280 12.280-12.280 32.190 0 44.480l22.240 22.240c12.280 12.280 32.200 12.280 44.480 0L176 322.720l100.070 100.070c12.280 12.280 32.200 12.280 44.480 0l22.240-22.240c12.280-12.280 12.280-32.190 0-44.480L242.720 256z"/></svg>
<div class="b" style="left:530px;top:402.0px;width:1460px;height:3.5px;background:#0c5e2d;"></div>
<div class="b" style="left:530px;top:336px;width:780px;height:69.5px;background:#0c5e2d;overflow:hidden;"></div>
<svg style="left:1931.8px;top:351px" width="42" height="42" viewBox="0 0 42 42"><circle cx="21" cy="21" r="18" fill="none" stroke="#8cc3ee" stroke-width="2"/><path d="M15.7,17.2 L23.5,17.2 L23.5,28.4 L26.3,29.3 L26.3,31 L15.5,31 L15.5,29.3 L18.2,28.4 L18.2,19.7 L15.7,19.1 Z" fill="#79b7e9"/><ellipse cx="20.7" cy="12.1" rx="3.1" ry="2.9" fill="#79b7e9"/></svg>
<span class="t" style="left:687.5px;top:356.8px;font-size:26.5px;color:#fff;letter-spacing:-0.36px;font-family:'Liberation Serif', serif;">WARNINGS [KE - Kitui, Crop, 2022/10/11]</span>
<div class="b" style="left:1992px;top:402.0px;width:1461px;height:3.5px;background:#0c5e2d;"></div>
<div class="b" style="left:1992px;top:336px;width:260px;height:69.5px;background:#0c5e2d;overflow:hidden;"></div>
<svg style="left:3394px;top:351px" width="42" height="42" viewBox="0 0 42 42"><circle cx="21" cy="21" r="18" fill="none" stroke="#8cc3ee" stroke-width="2"/><path d="M15.7,17.2 L23.5,17.2 L23.5,28.4 L26.3,29.3 L26.3,31 L15.5,31 L15.5,29.3 L18.2,28.4 L18.2,19.7 L15.7,19.1 Z" fill="#79b7e9"/><ellipse cx="20.7" cy="12.1" rx="3.1" ry="2.9" fill="#79b7e9"/></svg>
<span class="t" style="left:2045.0px;top:356.8px;font-size:26.5px;color:#fff;letter-spacing:-0.51px;font-family:'Liberation Serif', serif;">INDICATORS</span>
<div class="b" style="left:3452px;top:336px;width:2px;height:66px;background:#e8e8e8;"></div>
<div class="b" style="left:530px;top:1199.0px;width:1460px;height:3.5px;background:#0c5e2d;"></div>
<div class="b" style="left:530px;top:1133px;width:260px;height:69.5px;background:#0c5e2d;overflow:hidden;"></div>
<svg style="left:1931.8px;top:1148px" width="42" height="42" viewBox="0 0 42 42"><circle cx="21" cy="21" r="18" fill="none" stroke="#8cc3ee" stroke-width="2"/><path d="M15.7,17.2 L23.5,17.2 L23.5,28.4 L26.3,29.3 L26.3,31 L15.5,31 L15.5,29.3 L18.2,28.4 L18.2,19.7 L15.7,19.1 Z" fill="#79b7e9"/><ellipse cx="20.7" cy="12.1" rx="3.1" ry="2.9" fill="#79b7e9"/></svg>
<div class="b" style="left:530px;top:1133px;width:260px;height:69.5px;overflow:hidden;"><span class="t" style="left:0;width:260px;text-align:center;top:20.4px;font-size:26.5px;color:#fff;font-family:'Liberation Serif', serif;letter-spacing:-0.2px;">TEMPORAL</span><span class="t" style="left:0;width:260px;text-align:center;top:49.9px;font-size:26.5px;color:#fff;font-family:'Liberation Serif', serif;letter-spacing:-0.2px;">PROFILES</span></div>
<div class="b" style="left:1992px;top:1199.0px;width:1461px;height:3.5px;background:#0c5e2d;"></div>
<div class="b" style="left:1992px;top:1133px;width:260px;height:69.5px;background:#0c5e2d;overflow:hidden;"></div>
<svg style="left:3394px;top:1148px" width="42" height="42" viewBox="0 0 42 42"><circle cx="21" cy="21" r="18" fill="none" stroke="#8cc3ee" stroke-width="2"/><path d="M15.7,17.2 L23.5,17.2 L23.5,28.4 L26.3,29.3 L26.3,31 L15.5,31 L15.5,29.3 L18.2,28.4 L18.2,19.7 L15.7,19.1 Z" fill="#79b7e9"/><ellipse cx="20.7" cy="12.1" rx="3.1" ry="2.9" fill="#79b7e9"/></svg>
<span class="t" style="left:2042.7px;top:1153.4px;font-size:26.5px;color:#fff;letter-spacing:-0.53px;font-family:'Liberation Serif', serif;">PHENOLOGY</span>
<div class="b" style="left:3452px;top:1133px;width:2px;height:66px;background:#e8e8e8;"></div>
<div class="b" style="left:532px;top:476px;width:1447px;height:2px;background:#e2e2e2;"></div>
<span class="t" style="left:560.5px;top:426.9px;font-size:28px;color:#1c1c1c;letter-spacing:0.17px;transform:scaleX(1.0400);transform-origin:0 0;-webkit-text-stroke:0.65px;">Classification inputs</span>
<span class="t" style="left:881.5px;top:426.9px;font-size:28px;color:#0b5a9e;transform:scaleX(1.0268);transform-origin:0 0;-webkit-text-stroke:0.65px;">Time series</span>
<div class="b" style="left:853.0px;top:472px;width:201.0px;height:4px;background:#0b5a9e;"></div>
<span class="t" style="left:1089.5px;top:426.9px;font-size:28px;color:#1c1c1c;transform:scaleX(1.0383);transform-origin:0 0;-webkit-text-stroke:0.65px;">Unit overview</span>
<div class="b" style="left:1994px;top:476px;width:1447px;height:2px;background:#e2e2e2;"></div>
<span class="t" style="left:2022.0px;top:426.9px;font-size:28px;color:#0b5a9e;transform:scaleX(1.0282);transform-origin:0 0;-webkit-text-stroke:0.65px;">Share of active area by zscore range</span>
<div class="b" style="left:1993.5px;top:472px;width:524.0px;height:4px;background:#0b5a9e;"></div>
<div class="b" style="left:532px;top:1273px;width:1447px;height:2px;background:#e2e2e2;"></div>
<span class="t" style="left:561.0px;top:1224.3px;font-size:28px;color:#0b5a9e;letter-spacing:-0.05px;-webkit-text-stroke:0.65px;">Rainfall + NDVI</span>
<div class="b" style="left:532.5px;top:1269px;width:245.0px;height:4px;background:#0b5a9e;"></div>
<span class="t" style="left:813.7px;top:1224.3px;font-size:28px;color:#1c1c1c;transform:scaleX(1.0262);transform-origin:0 0;-webkit-text-stroke:0.65px;">Temperature</span>
<span class="t" style="left:1035.6px;top:1224.3px;font-size:28px;color:#1c1c1c;transform:scaleX(1.0280);transform-origin:0 0;-webkit-text-stroke:0.65px;">Solar Radiation</span>
<div class="b" style="left:1994px;top:1273px;width:1447px;height:2px;background:#e2e2e2;"></div>
<span class="t" style="left:2022.4px;top:1224.3px;font-size:28px;color:#1c1c1c;transform:scaleX(1.0210);transform-origin:0 0;-webkit-text-stroke:0.65px;">Progress</span>
<span class="t" style="left:2197.4px;top:1224.3px;font-size:28px;color:#0b5a9e;transform:scaleX(1.0266);transform-origin:0 0;-webkit-text-stroke:0.65px;">Active area</span>
<div class="b" style="left:2168.9px;top:1269px;width:197.29999999999973px;height:4px;background:#0b5a9e;"></div>
<span class="t" style="left:2401.7px;top:1224.3px;font-size:28px;color:#1c1c1c;transform:scaleX(1.0279);transform-origin:0 0;-webkit-text-stroke:0.65px;">Pheno of active area</span>
<span class="t" style="left:2727.2px;top:1224.3px;font-size:28px;color:#1c1c1c;transform:scaleX(1.0217);transform-origin:0 0;-webkit-text-stroke:0.65px;">Calendars</span>
<span class="t" style="left:2358.5px;top:821.6px;font-size:27.8px;color:#1c1c1c;letter-spacing:0.09px;">The selected date is outside the growing season period(s)</span>
<span class="t" style="left:2358.5px;top:856.6px;font-size:27.8px;color:#1c1c1c;letter-spacing:0.19px;">of the unit</span>
<span class="t" style="left:668.0px;top:1871.6px;font-size:23px;color:#1c1c1c;letter-spacing:0.39px;">All pixels</span>
<div class="b" style="left:772.8px;top:1864px;width:80px;height:39.5px;border-radius:20px;background:#7b9bc2;"></div>
<div class="b" style="left:778.3px;top:1869.3px;width:29px;height:29px;border-radius:50%;background:#f3f3f3;box-shadow:2px 3px 5px rgba(30,40,70,0.55);"></div>
<span class="t" style="left:867.0px;top:1871.6px;font-size:23px;color:#1c1c1c;letter-spacing:0.58px;">Active pixels</span>
<span class="t" style="left:1103.0px;top:1871.6px;font-size:23px;color:#1c1c1c;letter-spacing:0.42px;">10-daily values</span>
<div class="b" style="left:1272.8px;top:1864px;width:80px;height:39.5px;border-radius:20px;background:#7b9bc2;"></div>
<div class="b" style="left:1278.3px;top:1869.3px;width:29px;height:29px;border-radius:50%;background:#f3f3f3;box-shadow:2px 3px 5px rgba(30,40,70,0.55);"></div>
<span class="t" style="left:1367.0px;top:1871.6px;font-size:23px;color:#1c1c1c;letter-spacing:0.44px;">Cumulative values</span>
<svg style="left:530px;top:478px" width="1460" height="640" viewBox="530 478 1460 640"><rect x="679" y="496" width="1282" height="2" fill="#e6e6e6"/><rect x="680" y="498" width="142" height="26" fill="#b8dab8"/><rect x="822" y="498" width="106" height="26" fill="#a4a4a4"/><rect x="928" y="498" width="36" height="26" fill="#b8dab8"/><rect x="964" y="498" width="214" height="26" fill="#ffff66"/><rect x="1178" y="498" width="178" height="26" fill="#b8dab8"/><rect x="1356" y="498" width="354" height="26" fill="#a4a4a4"/><rect x="680" y="524" width="142" height="26" fill="#b8dab8"/><rect x="822" y="524" width="106" height="26" fill="#a4a4a4"/><rect x="928" y="524" width="428" height="26" fill="#b8dab8"/><rect x="1356" y="524" width="354" height="26" fill="#a4a4a4"/><rect x="1710" y="524" width="36" height="26" fill="#ffcc00"/><rect x="1746" y="524" width="214" height="26" fill="#cc0000"/><rect x="680" y="550" width="142" height="26" fill="#b8dab8"/><rect x="822" y="550" width="106" height="26" fill="#a4a4a4"/><rect x="928" y="550" width="428" height="26" fill="#b8dab8"/><rect x="1356" y="550" width="354" height="26" fill="#a4a4a4"/><rect x="1710" y="550" width="250" height="26" fill="#b8dab8"/><rect x="680" y="576" width="142" height="26" fill="#b8dab8"/><rect x="822" y="576" width="106" height="26" fill="#a4a4a4"/><rect x="928" y="576" width="250" height="26" fill="#cc0000"/><rect x="1178" y="576" width="106" height="26" fill="#8b0000"/><rect x="1284" y="576" width="72" height="26" fill="#b8dab8"/><rect x="1356" y="576" width="354" height="26" fill="#a4a4a4"/><rect x="1710" y="576" width="250" height="26" fill="#b8dab8"/><rect x="680" y="602" width="142" height="26" fill="#8b0000"/><rect x="822" y="602" width="106" height="26" fill="#a4a4a4"/><rect x="928" y="602" width="428" height="26" fill="#b8dab8"/><rect x="1356" y="602" width="354" height="26" fill="#a4a4a4"/><rect x="1710" y="602" width="36" height="26" fill="#ffcc00"/><rect x="1746" y="602" width="142" height="26" fill="#cc0000"/><rect x="1888" y="602" width="72" height="26" fill="#ffcc00"/><rect x="680" y="628" width="142" height="26" fill="#b8dab8"/><rect x="822" y="628" width="106" height="26" fill="#a4a4a4"/><rect x="928" y="628" width="214" height="26" fill="#cc0000"/><rect x="1142" y="628" width="36" height="26" fill="#ffff66"/><rect x="1178" y="628" width="178" height="26" fill="#b8dab8"/><rect x="1356" y="628" width="354" height="26" fill="#a4a4a4"/><rect x="1710" y="628" width="142" height="26" fill="#b8dab8"/><rect x="1852" y="628" width="36" height="26" fill="#ffcc00"/><rect x="1888" y="628" width="72" height="26" fill="#cc0000"/><rect x="680" y="654" width="142" height="26" fill="#b8dab8"/><rect x="822" y="654" width="106" height="26" fill="#a4a4a4"/><rect x="928" y="654" width="428" height="26" fill="#b8dab8"/><rect x="1356" y="654" width="354" height="26" fill="#a4a4a4"/><rect x="1710" y="654" width="142" height="26" fill="#cc0000"/><rect x="1852" y="654" width="36" height="26" fill="#ffcc00"/><rect x="1888" y="654" width="72" height="26" fill="#ffff66"/><rect x="680" y="680" width="142" height="26" fill="#b8dab8"/><rect x="822" y="680" width="106" height="26" fill="#a4a4a4"/><rect x="928" y="680" width="72" height="26" fill="#ffff66"/><rect x="1000" y="680" width="356" height="26" fill="#b8dab8"/><rect x="1356" y="680" width="354" height="26" fill="#a4a4a4"/><rect x="1710" y="680" width="250" height="26" fill="#b8dab8"/><rect x="680" y="706" width="142" height="28" fill="#b8dab8"/><rect x="822" y="706" width="106" height="28" fill="#a4a4a4"/><rect x="928" y="706" width="428" height="28" fill="#b8dab8"/><rect x="1356" y="706" width="354" height="28" fill="#a4a4a4"/><rect x="1710" y="706" width="250" height="28" fill="#b8dab8"/><rect x="680" y="734" width="142" height="26" fill="#b8dab8"/><rect x="822" y="734" width="106" height="26" fill="#a4a4a4"/><rect x="928" y="734" width="428" height="26" fill="#b8dab8"/><rect x="1356" y="734" width="354" height="26" fill="#a4a4a4"/><rect x="1710" y="734" width="72" height="26" fill="#cc0000"/><rect x="1782" y="734" width="36" height="26" fill="#ffcc00"/><rect x="1818" y="734" width="34" height="26" fill="#cc0000"/><rect x="1852" y="734" width="36" height="26" fill="#ffff66"/><rect x="1888" y="734" width="72" height="26" fill="#b8dab8"/><rect x="680" y="760" width="142" height="26" fill="#b8dab8"/><rect x="822" y="760" width="106" height="26" fill="#a4a4a4"/><rect x="928" y="760" width="142" height="26" fill="#cc0000"/><rect x="1070" y="760" width="72" height="26" fill="#ffcc00"/><rect x="1142" y="760" width="214" height="26" fill="#b8dab8"/><rect x="1356" y="760" width="354" height="26" fill="#a4a4a4"/><rect x="1710" y="760" width="214" height="26" fill="#ffcc00"/><rect x="1924" y="760" width="36" height="26" fill="#b8dab8"/><rect x="680" y="786" width="106" height="26" fill="#8b0000"/><rect x="786" y="786" width="36" height="26" fill="#b8dab8"/><rect x="822" y="786" width="106" height="26" fill="#a4a4a4"/><rect x="928" y="786" width="36" height="26" fill="#b8dab8"/><rect x="964" y="786" width="36" height="26" fill="#ffcc00"/><rect x="1000" y="786" width="70" height="26" fill="#cc0000"/><rect x="1070" y="786" width="36" height="26" fill="#ffcc00"/><rect x="1106" y="786" width="36" height="26" fill="#cc0000"/><rect x="1142" y="786" width="36" height="26" fill="#ffcc00"/><rect x="1178" y="786" width="178" height="26" fill="#8b0000"/><rect x="1356" y="786" width="354" height="26" fill="#a4a4a4"/><rect x="1710" y="786" width="250" height="26" fill="#b8dab8"/><rect x="680" y="812" width="142" height="26" fill="#b8dab8"/><rect x="822" y="812" width="106" height="26" fill="#a4a4a4"/><rect x="928" y="812" width="428" height="26" fill="#b8dab8"/><rect x="1356" y="812" width="354" height="26" fill="#a4a4a4"/><rect x="1710" y="812" width="142" height="26" fill="#b8dab8"/><rect x="1852" y="812" width="108" height="26" fill="#ffff66"/><rect x="680" y="838" width="142" height="26" fill="#8b0000"/><rect x="822" y="838" width="106" height="26" fill="#a4a4a4"/><rect x="928" y="838" width="250" height="26" fill="#cc0000"/><rect x="1178" y="838" width="178" height="26" fill="#8b0000"/><rect x="1356" y="838" width="354" height="26" fill="#a4a4a4"/><rect x="1710" y="838" width="250" height="26" fill="#b8dab8"/><rect x="680" y="864" width="142" height="26" fill="#b8dab8"/><rect x="822" y="864" width="106" height="26" fill="#a4a4a4"/><rect x="928" y="864" width="428" height="26" fill="#b8dab8"/><rect x="1356" y="864" width="354" height="26" fill="#a4a4a4"/><rect x="1710" y="864" width="178" height="26" fill="#b8dab8"/><rect x="1888" y="864" width="72" height="26" fill="#cc0000"/><rect x="680" y="890" width="142" height="26" fill="#b8dab8"/><rect x="822" y="890" width="106" height="26" fill="#a4a4a4"/><rect x="928" y="890" width="72" height="26" fill="#b8dab8"/><rect x="1000" y="890" width="36" height="26" fill="#ffff66"/><rect x="1036" y="890" width="320" height="26" fill="#b8dab8"/><rect x="1356" y="890" width="354" height="26" fill="#a4a4a4"/><rect x="1710" y="890" width="36" height="26" fill="#b8dab8"/><rect x="1746" y="890" width="36" height="26" fill="#ffff66"/><rect x="1782" y="890" width="178" height="26" fill="#b8dab8"/><rect x="680" y="916" width="142" height="26" fill="#8b0000"/><rect x="822" y="916" width="106" height="26" fill="#a4a4a4"/><rect x="928" y="916" width="428" height="26" fill="#b8dab8"/><rect x="1356" y="916" width="354" height="26" fill="#a4a4a4"/><rect x="1710" y="916" width="36" height="26" fill="#ffff66"/><rect x="1746" y="916" width="214" height="26" fill="#b8dab8"/><rect x="680" y="942" width="142" height="26" fill="#b8dab8"/><rect x="822" y="942" width="106" height="26" fill="#a4a4a4"/><rect x="928" y="942" width="250" height="26" fill="#ffff66"/><rect x="1178" y="942" width="178" height="26" fill="#b8dab8"/><rect x="1356" y="942" width="354" height="26" fill="#a4a4a4"/><rect x="1710" y="942" width="36" height="26" fill="#ffcc00"/><rect x="1746" y="942" width="214" height="26" fill="#cc0000"/><rect x="680" y="968" width="142" height="26" fill="#b8dab8"/><rect x="822" y="968" width="106" height="26" fill="#a4a4a4"/><rect x="928" y="968" width="178" height="26" fill="#b8dab8"/><rect x="1106" y="968" width="72" height="26" fill="#ffff66"/><rect x="1178" y="968" width="178" height="26" fill="#b8dab8"/><rect x="1356" y="968" width="354" height="26" fill="#a4a4a4"/><rect x="1710" y="968" width="250" height="26" fill="#b8dab8"/><rect x="680" y="994" width="142" height="26" fill="#b8dab8"/><rect x="822" y="994" width="106" height="26" fill="#a4a4a4"/><rect x="928" y="994" width="36" height="26" fill="#ffff66"/><rect x="964" y="994" width="36" height="26" fill="#b8dab8"/><rect x="1000" y="994" width="106" height="26" fill="#ffff66"/><rect x="1106" y="994" width="250" height="26" fill="#b8dab8"/><rect x="1356" y="994" width="354" height="26" fill="#a4a4a4"/><rect x="1710" y="994" width="250" height="26" fill="#b8dab8"/><path d="M679,498 L1711,498 M679,524 L1961,524 M679,550 L1961,550 M679,576 L1961,576 M679,602 L1961,602 M679,628 L1961,628 M679,654 L1961,654 M679,680 L1961,680 M679,706 L1961,706 M679,734 L1961,734 M679,760 L1961,760 M679,786 L1961,786 M679,812 L1961,812 M679,838 L1961,838 M679,864 L1961,864 M679,890 L1961,890 M679,916 L1961,916 M679,942 L1961,942 M679,968 L1961,968 M679,994 L1961,994 M679,1020 L1961,1020 M680,498 L680,1020 M716,498 L716,1020 M752,498 L752,1020 M786,498 L786,1020 M822,498 L822,1020 M858,498 L858,1020 M894,498 L894,1020 M928,498 L928,1020 M964,498 L964,1020 M1000,498 L1000,1020 M1036,498 L1036,1020 M1070,498 L1070,1020 M1106,498 L1106,1020 M1142,498 L1142,1020 M1178,498 L1178,1020 M1214,498 L1214,1020 M1248,498 L1248,1020 M1284,498 L1284,1020 M1320,498 L1320,1020 M1356,498 L1356,1020 M1390,498 L1390,1020 M1426,498 L1426,1020 M1462,498 L1462,1020 M1498,498 L1498,1020 M1532,498 L1532,1020 M1568,498 L1568,1020 M1604,498 L1604,1020 M1640,498 L1640,1020 M1676,498 L1676,1020 M1710,498 L1710,1020 M1746,524 L1746,1020 M1782,524 L1782,1020 M1818,524 L1818,1020 M1852,524 L1852,1020 M1888,524 L1888,1020 M1924,524 L1924,1020 M1960,524 L1960,1020" stroke="#5f5f5f" stroke-width="2" fill="none"/><rect x="679" y="1022" width="1282" height="2" fill="#ccd6eb"/><path d="M680,1023 L680,1042 M716,1023 L716,1042 M752,1023 L752,1042 M786,1023 L786,1042 M822,1023 L822,1042 M858,1023 L858,1042 M894,1023 L894,1042 M928,1023 L928,1042 M964,1023 L964,1042 M1000,1023 L1000,1042 M1036,1023 L1036,1042 M1070,1023 L1070,1042 M1106,1023 L1106,1042 M1142,1023 L1142,1042 M1178,1023 L1178,1042 M1214,1023 L1214,1042 M1248,1023 L1248,1042 M1284,1023 L1284,1042 M1320,1023 L1320,1042 M1356,1023 L1356,1042 M1390,1023 L1390,1042 M1426,1023 L1426,1042 M1462,1023 L1462,1042 M1498,1023 L1498,1042 M1532,1023 L1532,1042 M1568,1023 L1568,1042 M1604,1023 L1604,1042 M1640,1023 L1640,1042 M1676,1023 L1676,1042 M1710,1023 L1710,1042 M1746,1023 L1746,1042 M1782,1023 L1782,1042 M1818,1023 L1818,1042 M1852,1023 L1852,1042 M1888,1023 L1888,1042 M1924,1023 L1924,1042 M1960,1023 L1960,1042" stroke="#ccd6eb" stroke-width="2" fill="none"/><text x="601.7" y="519.9" font-size="21" fill="#666666" letter-spacing="0.29">2022</text><text x="601.7" y="546.0" font-size="21" fill="#666666" letter-spacing="0.29">2021</text><text x="601.7" y="572.1" font-size="21" fill="#666666" letter-spacing="0.29">2020</text><text x="601.7" y="598.2" font-size="21" fill="#666666" letter-spacing="0.29">2019</text><text x="601.7" y="624.3" font-size="21" fill="#666666" letter-spacing="0.29">2018</text><text x="601.7" y="650.5" font-size="21" fill="#666666" letter-spacing="0.29">2017</text><text x="601.7" y="676.6" font-size="21" fill="#666666" letter-spacing="0.29">2016</text><text x="601.7" y="702.7" font-size="21" fill="#666666" letter-spacing="0.29">2015</text><text x="601.7" y="728.8" font-size="21" fill="#666666" letter-spacing="0.29">2014</text><text x="601.7" y="754.9" font-size="21" fill="#666666" letter-spacing="0.29">2013</text><text x="601.7" y="781.1" font-size="21" fill="#666666" letter-spacing="0.29">2012</text><text x="601.7" y="807.2" font-size="21" fill="#666666" letter-spacing="0.81">2011</text><text x="601.7" y="833.3" font-size="21" fill="#666666" letter-spacing="0.29">2010</text><text x="601.7" y="859.4" font-size="21" fill="#666666" letter-spacing="0.29">2009</text><text x="601.7" y="885.5" font-size="21" fill="#666666" letter-spacing="0.29">2008</text><text x="601.7" y="911.7" font-size="21" fill="#666666" letter-spacing="0.29">2007</text><text x="601.7" y="937.8" font-size="21" fill="#666666" letter-spacing="0.29">2006</text><text x="601.7" y="963.9" font-size="21" fill="#666666" letter-spacing="0.29">2005</text><text x="601.7" y="990.0" font-size="21" fill="#666666" letter-spacing="0.29">2004</text><text x="601.7" y="1016.1" font-size="21" fill="#666666" letter-spacing="0.29">2003</text><text x="693.5" y="1046.0" font-size="22" fill="#666666" transform="rotate(-90 705.8 1046.0)">1</text><text x="729.1" y="1046.0" font-size="22" fill="#666666" transform="rotate(-90 741.3 1046.0)">2</text><text x="764.6" y="1046.0" font-size="22" fill="#666666" transform="rotate(-90 776.9 1046.0)">3</text><text x="800.2" y="1046.0" font-size="22" fill="#666666" transform="rotate(-90 812.4 1046.0)">4</text><text x="835.7" y="1046.0" font-size="22" fill="#666666" transform="rotate(-90 847.9 1046.0)">5</text><text x="871.2" y="1046.0" font-size="22" fill="#666666" transform="rotate(-90 883.5 1046.0)">6</text><text x="906.8" y="1046.0" font-size="22" fill="#666666" transform="rotate(-90 919.0 1046.0)">7</text><text x="942.3" y="1046.0" font-size="22" fill="#666666" transform="rotate(-90 954.5 1046.0)">8</text><text x="977.9" y="1046.0" font-size="22" fill="#666666" transform="rotate(-90 990.1 1046.0)">9</text><text x="1001.2" y="1046.0" font-size="22" fill="#666666" transform="rotate(-90 1025.6 1046.0)">10</text><text x="1038.3" y="1046.0" font-size="22" fill="#666666" transform="rotate(-90 1061.2 1046.0)">11</text><text x="1072.2" y="1046.0" font-size="22" fill="#666666" transform="rotate(-90 1096.7 1046.0)">12</text><text x="1107.8" y="1046.0" font-size="22" fill="#666666" transform="rotate(-90 1132.2 1046.0)">13</text><text x="1143.3" y="1046.0" font-size="22" fill="#666666" transform="rotate(-90 1167.8 1046.0)">14</text><text x="1178.9" y="1046.0" font-size="22" fill="#666666" transform="rotate(-90 1203.3 1046.0)">15</text><text x="1214.4" y="1046.0" font-size="22" fill="#666666" transform="rotate(-90 1238.9 1046.0)">16</text><text x="1249.9" y="1046.0" font-size="22" fill="#666666" transform="rotate(-90 1274.4 1046.0)">17</text><text x="1285.5" y="1046.0" font-size="22" fill="#666666" transform="rotate(-90 1309.9 1046.0)">18</text><text x="1321.0" y="1046.0" font-size="22" fill="#666666" transform="rotate(-90 1345.5 1046.0)">19</text><text x="1356.6" y="1046.0" font-size="22" fill="#666666" transform="rotate(-90 1381.0 1046.0)">20</text><text x="1392.1" y="1046.0" font-size="22" fill="#666666" transform="rotate(-90 1416.6 1046.0)">21</text><text x="1427.6" y="1046.0" font-size="22" fill="#666666" transform="rotate(-90 1452.1 1046.0)">22</text><text x="1463.2" y="1046.0" font-size="22" fill="#666666" transform="rotate(-90 1487.7 1046.0)">23</text><text x="1498.7" y="1046.0" font-size="22" fill="#666666" transform="rotate(-90 1523.2 1046.0)">24</text><text x="1534.3" y="1046.0" font-size="22" fill="#666666" transform="rotate(-90 1558.7 1046.0)">25</text><text x="1569.8" y="1046.0" font-size="22" fill="#666666" transform="rotate(-90 1594.3 1046.0)">26</text><text x="1605.3" y="1046.0" font-size="22" fill="#666666" transform="rotate(-90 1629.8 1046.0)">27</text><text x="1640.9" y="1046.0" font-size="22" fill="#666666" transform="rotate(-90 1665.3 1046.0)">28</text><text x="1676.4" y="1046.0" font-size="22" fill="#666666" transform="rotate(-90 1700.9 1046.0)">29</text><text x="1712.0" y="1046.0" font-size="22" fill="#666666" transform="rotate(-90 1736.4 1046.0)">30</text><text x="1747.5" y="1046.0" font-size="22" fill="#666666" transform="rotate(-90 1772.0 1046.0)">31</text><text x="1783.0" y="1046.0" font-size="22" fill="#666666" transform="rotate(-90 1807.5 1046.0)">32</text><text x="1818.6" y="1046.0" font-size="22" fill="#666666" transform="rotate(-90 1843.0 1046.0)">33</text><text x="1854.1" y="1046.0" font-size="22" fill="#666666" transform="rotate(-90 1878.6 1046.0)">34</text><text x="1889.7" y="1046.0" font-size="22" fill="#666666" transform="rotate(-90 1914.1 1046.0)">35</text><text x="1925.2" y="1046.0" font-size="22" fill="#666666" transform="rotate(-90 1949.7 1046.0)">36</text><text x="554.3" y="759.9" font-size="25" fill="#666666" letter-spacing="0.16" transform="rotate(-90 579.8 759.9)">Year</text><rect x="1848" y="486" width="40.5" height="45" fill="#fff"/><ellipse cx="1851.8" cy="495" rx="3.1" ry="3.6" fill="#6fb5ea"/><rect x="1858.1999999999998" y="492.4" width="29.5" height="5.2" fill="#6fb5ea"/><ellipse cx="1851.8" cy="511" rx="3.1" ry="3.6" fill="#6fb5ea"/><rect x="1858.1999999999998" y="508.4" width="29.5" height="5.2" fill="#6fb5ea"/><ellipse cx="1851.8" cy="527" rx="3.1" ry="3.6" fill="#6fb5ea"/><rect x="1858.1999999999998" y="524.4" width="29.5" height="5.2" fill="#6fb5ea"/><path d="M1932.8,495 L1932.8,515.0" stroke="#6fb5ea" stroke-width="3.4" fill="none"/><path d="M1924.0,512.0 L1941.6,512.0 L1932.8,525.5 Z" fill="#6fb5ea"/><path d="M1914.2,521.5 L1914.2,533.5 L1951.3999999999999,533.5 L1951.3999999999999,521.5" stroke="#6fb5ea" stroke-width="3.4" fill="none"/></svg>
<svg style="left:530px;top:1276px" width="1460" height="570" viewBox="530 1276 1460 570"><rect x="664.0" y="1293" width="1117.0" height="2" fill="#e6e6e6"/><rect x="664.0" y="1461" width="1117.0" height="2" fill="#e6e6e6"/><rect x="664.0" y="1627" width="1117.0" height="2" fill="#e6e6e6"/><rect x="1546" y="1294.5" width="4" height="497.5" fill="#ff0000"/><rect x="670" y="1784.5" width="4" height="8.0" fill="#00008b"/><rect x="678" y="1768.5" width="4" height="24.0" fill="#add8e6"/><rect x="684" y="1768.5" width="4" height="24.0" fill="#707070"/><rect x="700" y="1774.5" width="4" height="18.0" fill="#00008b"/><rect x="708" y="1790.5" width="4" height="2.0" fill="#add8e6"/><rect x="714" y="1776.5" width="4" height="16.0" fill="#707070"/><rect x="732" y="1784.5" width="4" height="8.0" fill="#00008b"/><rect x="740" y="1786.5" width="4" height="6.0" fill="#add8e6"/><rect x="746" y="1778.5" width="4" height="14.0" fill="#707070"/><rect x="762" y="1784.5" width="4" height="8.0" fill="#00008b"/><rect x="770" y="1776.5" width="4" height="16.0" fill="#add8e6"/><rect x="776" y="1782.5" width="4" height="10.0" fill="#707070"/><rect x="794" y="1786.5" width="4" height="6.0" fill="#00008b"/><rect x="802" y="1786.5" width="4" height="6.0" fill="#add8e6"/><rect x="808" y="1778.5" width="4" height="14.0" fill="#707070"/><rect x="824" y="1770.5" width="4" height="22.0" fill="#00008b"/><rect x="832" y="1772.5" width="4" height="20.0" fill="#add8e6"/><rect x="838" y="1778.5" width="4" height="14.0" fill="#707070"/><rect x="856" y="1782.5" width="4" height="10.0" fill="#00008b"/><rect x="864" y="1778.5" width="4" height="14.0" fill="#add8e6"/><rect x="870" y="1740.6" width="4" height="51.9" fill="#707070"/><rect x="886" y="1784.5" width="4" height="8.0" fill="#00008b"/><rect x="894" y="1762.6" width="4" height="29.9" fill="#add8e6"/><rect x="900" y="1736.6" width="4" height="55.9" fill="#707070"/><rect x="918" y="1766.8" width="4" height="25.7" fill="#00008b"/><rect x="926" y="1772.8" width="4" height="19.7" fill="#add8e6"/><rect x="932" y="1716.7" width="4" height="75.8" fill="#707070"/><rect x="948" y="1770.8" width="4" height="21.7" fill="#00008b"/><rect x="956" y="1648.8" width="4" height="143.7" fill="#add8e6"/><rect x="962" y="1660.5" width="4" height="132.0" fill="#707070"/><rect x="980" y="1714.7" width="4" height="77.8" fill="#00008b"/><rect x="988" y="1738.9" width="4" height="53.6" fill="#add8e6"/><rect x="994" y="1684.7" width="4" height="107.8" fill="#707070"/><rect x="1010" y="1500.6" width="4" height="291.9" fill="#00008b"/><rect x="1018" y="1648.8" width="4" height="143.7" fill="#add8e6"/><rect x="1024" y="1656.5" width="4" height="136.0" fill="#707070"/><rect x="1042" y="1786.8" width="4" height="5.7" fill="#00008b"/><rect x="1050" y="1712.7" width="4" height="79.8" fill="#add8e6"/><rect x="1056" y="1750.8" width="4" height="41.7" fill="#707070"/><rect x="1072" y="1782.8" width="4" height="9.7" fill="#00008b"/><rect x="1080" y="1726.9" width="4" height="65.6" fill="#add8e6"/><rect x="1086" y="1770.8" width="4" height="21.7" fill="#707070"/><rect x="1104" y="1780.5" width="4" height="12.0" fill="#00008b"/><rect x="1112" y="1777.0" width="4" height="15.5" fill="#add8e6"/><rect x="1118" y="1775.0" width="4" height="17.5" fill="#707070"/><rect x="1134" y="1790.8" width="4" height="1.7" fill="#00008b"/><rect x="1142" y="1790.8" width="4" height="1.7" fill="#add8e6"/><rect x="1148" y="1788.8" width="4" height="3.7" fill="#707070"/><rect x="1228" y="1788.8" width="4" height="3.7" fill="#00008b"/><rect x="1236" y="1786.8" width="4" height="5.7" fill="#add8e6"/><rect x="1242" y="1788.8" width="4" height="3.7" fill="#707070"/><rect x="1258" y="1786.8" width="4" height="5.7" fill="#00008b"/><rect x="1266" y="1786.8" width="4" height="5.7" fill="#add8e6"/><rect x="1272" y="1788.8" width="4" height="3.7" fill="#707070"/><rect x="1290" y="1788.8" width="4" height="3.7" fill="#00008b"/><rect x="1298" y="1784.8" width="4" height="7.7" fill="#add8e6"/><rect x="1304" y="1788.8" width="4" height="3.7" fill="#707070"/><rect x="1320" y="1786.8" width="4" height="5.7" fill="#00008b"/><rect x="1328" y="1790.5" width="4" height="2.0" fill="#add8e6"/><rect x="1334" y="1788.8" width="4" height="3.7" fill="#707070"/><rect x="1352" y="1788.8" width="4" height="3.7" fill="#00008b"/><rect x="1360" y="1788.8" width="4" height="3.7" fill="#add8e6"/><rect x="1366" y="1788.8" width="4" height="3.7" fill="#707070"/><rect x="1382" y="1790.8" width="4" height="1.7" fill="#00008b"/><rect x="1390" y="1790.8" width="4" height="1.7" fill="#add8e6"/><rect x="1396" y="1790.8" width="4" height="1.7" fill="#707070"/><rect x="1476" y="1788.8" width="4" height="3.7" fill="#00008b"/><rect x="1484" y="1790.8" width="4" height="1.7" fill="#add8e6"/><rect x="1490" y="1788.8" width="4" height="3.7" fill="#707070"/><rect x="1506" y="1777.0" width="4" height="15.5" fill="#00008b"/><rect x="1514" y="1774.8" width="4" height="17.7" fill="#add8e6"/><rect x="1520" y="1768.8" width="4" height="23.7" fill="#707070"/><rect x="1538" y="1774.8" width="4" height="17.7" fill="#00008b"/><rect x="1546" y="1768.8" width="4" height="23.7" fill="#add8e6"/><rect x="1552" y="1754.8" width="4" height="37.7" fill="#707070"/><rect x="1576" y="1770.8" width="4" height="21.7" fill="#add8e6"/><rect x="1582" y="1722.9" width="4" height="69.6" fill="#707070"/><rect x="1606" y="1758.8" width="4" height="33.7" fill="#add8e6"/><rect x="1612" y="1608.6" width="4" height="183.9" fill="#707070"/><rect x="1638" y="1752.8" width="4" height="39.7" fill="#add8e6"/><rect x="1644" y="1588.7" width="4" height="203.8" fill="#707070"/><rect x="1668" y="1514.8" width="4" height="277.7" fill="#add8e6"/><rect x="1674" y="1622.6" width="4" height="169.9" fill="#707070"/><rect x="1700" y="1706.9" width="4" height="85.6" fill="#add8e6"/><rect x="1706" y="1670.5" width="4" height="122.0" fill="#707070"/><rect x="1730" y="1704.9" width="4" height="87.6" fill="#add8e6"/><rect x="1736" y="1700.7" width="4" height="91.8" fill="#707070"/><rect x="1762" y="1398.3" width="4" height="394.2" fill="#add8e6"/><rect x="1768" y="1710.7" width="4" height="81.8" fill="#707070"/><rect x="662.0" y="1793.0" width="1120.0" height="2" fill="#ccd6eb"/><path d="M663,1794.0 L663,1813.0 M694,1794.0 L694,1813.0 M725,1794.0 L725,1813.0 M756,1794.0 L756,1813.0 M787,1794.0 L787,1813.0 M818,1794.0 L818,1813.0 M849,1794.0 L849,1813.0 M880,1794.0 L880,1813.0 M911,1794.0 L911,1813.0 M942,1794.0 L942,1813.0 M974,1794.0 L974,1813.0 M1005,1794.0 L1005,1813.0 M1036,1794.0 L1036,1813.0 M1067,1794.0 L1067,1813.0 M1098,1794.0 L1098,1813.0 M1129,1794.0 L1129,1813.0 M1160,1794.0 L1160,1813.0 M1191,1794.0 L1191,1813.0 M1222,1794.0 L1222,1813.0 M1253,1794.0 L1253,1813.0 M1284,1794.0 L1284,1813.0 M1315,1794.0 L1315,1813.0 M1346,1794.0 L1346,1813.0 M1377,1794.0 L1377,1813.0 M1408,1794.0 L1408,1813.0 M1439,1794.0 L1439,1813.0 M1470,1794.0 L1470,1813.0 M1502,1794.0 L1502,1813.0 M1533,1794.0 L1533,1813.0 M1564,1794.0 L1564,1813.0 M1595,1794.0 L1595,1813.0 M1626,1794.0 L1626,1813.0 M1657,1794.0 L1657,1813.0 M1688,1794.0 L1688,1813.0 M1719,1794.0 L1719,1813.0 M1750,1794.0 L1750,1813.0 M1781,1794.0 L1781,1813.0" stroke="#ccd6eb" stroke-width="2" fill="none"/><path d="M678.53,1471.92 C678.53,1471.92 697.16,1484.95 709.58,1493.21 C722.01,1501.47 728.22,1504.85 740.64,1513.23 C753.06,1521.61 759.27,1527.09 771.69,1535.13 C784.12,1543.17 790.33,1548.32 802.75,1553.43 C815.17,1558.53 821.38,1560.63 833.81,1560.63 C846.23,1560.63 852.44,1560.63 864.86,1560.63 C877.28,1560.63 883.49,1559.52 895.92,1553.43 C908.34,1547.33 914.55,1539.45 926.97,1530.14 C939.39,1520.82 945.61,1514.06 958.03,1506.85 C970.45,1499.64 976.66,1498.87 989.08,1494.10 C1001.51,1489.33 1007.72,1483.01 1020.14,1483.01 C1032.56,1483.01 1038.77,1483.01 1051.19,1483.01 C1063.62,1483.01 1069.83,1488.56 1082.25,1495.21 C1094.67,1501.86 1100.88,1507.30 1113.31,1516.28 C1125.73,1525.26 1131.94,1531.03 1144.36,1540.12 C1156.78,1549.21 1162.99,1555.71 1175.42,1561.74 C1187.84,1567.77 1194.05,1565.73 1206.47,1570.28 C1218.89,1574.83 1225.11,1579.09 1237.53,1584.47 C1249.95,1589.86 1256.16,1593.40 1268.58,1597.23 C1281.01,1601.05 1287.22,1601.27 1299.64,1603.60 C1312.06,1605.93 1318.27,1605.93 1330.69,1608.87 C1343.12,1611.81 1349.33,1614.75 1361.75,1618.30 C1374.17,1621.84 1380.38,1626.06 1392.81,1626.61 C1405.23,1627.17 1411.44,1626.61 1423.86,1627.17 C1436.28,1627.72 1442.49,1632.71 1454.92,1632.71 C1467.34,1632.71 1473.55,1632.71 1485.97,1632.71 C1498.39,1632.71 1504.61,1632.56 1517.03,1628.28 C1529.45,1624.00 1535.66,1623.29 1548.08,1611.31 C1560.51,1599.33 1566.72,1585.52 1579.14,1568.40 C1591.56,1551.27 1597.77,1541.28 1610.19,1525.70 C1622.62,1510.12 1628.83,1503.80 1641.25,1490.50 C1653.67,1477.19 1659.88,1468.76 1672.31,1459.17 C1684.73,1449.58 1690.94,1446.42 1703.36,1442.54 C1715.78,1438.66 1721.99,1438.66 1734.42,1438.66 C1746.84,1438.66 1765.47,1449.74 1765.47,1449.74" stroke="#76952d" stroke-width="4" fill="none" stroke-dasharray="16,6" stroke-linejoin="round"/><path d="M678.53,1455.29 C678.53,1455.29 697.16,1469.15 709.58,1477.47 C722.01,1485.78 728.22,1488.78 740.64,1496.87 C753.06,1504.97 759.27,1509.29 771.69,1517.94 C784.12,1526.59 790.33,1532.02 802.75,1540.12 C815.17,1548.21 821.38,1552.32 833.81,1558.42 C846.23,1564.51 852.44,1570.61 864.86,1570.61 C877.28,1570.61 883.49,1570.61 895.92,1570.06 C908.34,1569.50 914.55,1558.08 926.97,1548.44 C939.39,1538.79 945.61,1531.03 958.03,1521.82 C970.45,1512.62 976.66,1508.96 989.08,1502.42 C1001.51,1495.87 1007.72,1492.77 1020.14,1489.11 C1032.56,1485.45 1038.77,1484.12 1051.19,1484.12 C1063.62,1484.12 1069.83,1489.66 1082.25,1495.21 C1094.67,1500.75 1100.88,1504.19 1113.31,1511.84 C1125.73,1519.49 1131.94,1525.15 1144.36,1533.47 C1156.78,1541.78 1162.99,1546.44 1175.42,1553.43 C1187.84,1560.41 1194.05,1562.41 1206.47,1568.40 C1218.89,1574.38 1225.11,1577.82 1237.53,1583.37 C1249.95,1588.91 1256.16,1591.35 1268.58,1596.12 C1281.01,1600.89 1287.22,1603.44 1299.64,1607.21 C1312.06,1610.98 1318.27,1611.86 1330.69,1614.97 C1343.12,1618.07 1349.33,1620.29 1361.75,1622.73 C1374.17,1625.17 1380.38,1627.17 1392.81,1627.17 C1405.23,1627.17 1411.44,1627.17 1423.86,1627.17 C1436.28,1627.17 1442.49,1627.17 1454.92,1627.17 C1467.34,1627.17 1473.55,1630.49 1485.97,1631.60 C1498.39,1632.71 1504.61,1631.60 1517.03,1632.71 C1529.45,1633.82 1535.66,1638.26 1548.08,1638.26 C1560.51,1638.26 1566.72,1636.04 1579.14,1632.71 C1591.56,1629.38 1597.77,1630.94 1610.19,1621.62 C1622.62,1612.31 1628.83,1603.66 1641.25,1586.14 C1653.67,1568.62 1659.88,1555.20 1672.31,1534.02 C1684.73,1512.84 1690.94,1500.20 1703.36,1480.24 C1715.78,1460.28 1721.99,1450.30 1734.42,1434.22 C1746.84,1418.14 1765.47,1399.84 1765.47,1399.84" stroke="#12f7a0" stroke-width="4" fill="none" stroke-linejoin="round" stroke-linecap="round"/><path d="M678.53,1405.39 C678.53,1405.39 697.16,1415.92 709.58,1427.57 C722.01,1439.21 728.22,1449.19 740.64,1463.61 C753.06,1478.02 759.27,1485.78 771.69,1499.64 C784.12,1513.51 790.33,1522.93 802.75,1532.91 C815.17,1542.89 821.38,1542.89 833.81,1549.54 C846.23,1556.20 852.44,1561.74 864.86,1566.18 C877.28,1570.61 883.49,1571.72 895.92,1571.72 C908.34,1571.72 914.55,1569.50 926.97,1566.18 C939.39,1562.85 945.61,1562.30 958.03,1555.09 C970.45,1547.88 976.66,1537.90 989.08,1530.14 C1001.51,1522.38 1007.72,1521.27 1020.14,1516.28 C1032.56,1511.29 1038.77,1505.19 1051.19,1505.19 C1063.62,1505.19 1069.83,1509.62 1082.25,1516.28 C1094.67,1522.93 1100.88,1530.69 1113.31,1538.46 C1125.73,1546.22 1131.94,1547.33 1144.36,1555.09 C1156.78,1562.85 1162.99,1571.17 1175.42,1577.27 C1187.84,1583.37 1194.05,1581.15 1206.47,1585.58 C1218.89,1590.02 1225.11,1595.56 1237.53,1599.44 C1249.95,1603.33 1256.16,1602.77 1268.58,1604.99 C1281.01,1607.21 1287.22,1608.32 1299.64,1610.53 C1312.06,1612.75 1318.27,1612.75 1330.69,1616.08 C1343.12,1619.40 1349.33,1623.84 1361.75,1627.17 C1374.17,1630.49 1380.38,1632.71 1392.81,1632.71 C1405.23,1632.71 1411.44,1632.71 1423.86,1632.71 C1436.28,1632.71 1442.49,1638.26 1454.92,1638.26 C1467.34,1638.26 1473.55,1638.26 1485.97,1638.26 C1498.39,1638.26 1504.61,1638.26 1517.03,1638.26 C1529.45,1638.26 1548.08,1627.17 1548.08,1627.17" stroke="#20771f" stroke-width="4" fill="none" stroke-linejoin="round" stroke-linecap="round"/><clipPath id="sdclip"><rect x="1550" y="1300" width="40" height="171"/></clipPath><g clip-path="url(#sdclip)"><text x="1555.2" y="1313.8" font-size="25.5" fill="#000" letter-spacing="-0.02" transform="rotate(90 1555.2 1313.8)" stroke="#fff" stroke-width="3" paint-order="stroke" stroke-linejoin="round">Selected Date</text></g><ellipse cx="1792.2" cy="1292.2" rx="3.1" ry="3.6" fill="#6fb5ea"/><rect x="1798.6" y="1289.6000000000001" width="29.5" height="5.2" fill="#6fb5ea"/><ellipse cx="1792.2" cy="1308.2" rx="3.1" ry="3.6" fill="#6fb5ea"/><rect x="1798.6" y="1305.6000000000001" width="29.5" height="5.2" fill="#6fb5ea"/><ellipse cx="1792.2" cy="1324.2" rx="3.1" ry="3.6" fill="#6fb5ea"/><rect x="1798.6" y="1321.6000000000001" width="29.5" height="5.2" fill="#6fb5ea"/><path d="M1869.2,1288.5 L1869.2,1308.5" stroke="#6fb5ea" stroke-width="3.4" fill="none"/><path d="M1860.4,1305.5 L1878.0,1305.5 L1869.2,1319.0 Z" fill="#6fb5ea"/><path d="M1850.6000000000001,1315.0 L1850.6000000000001,1327.0 L1887.8,1327.0 L1887.8,1315.0" stroke="#6fb5ea" stroke-width="3.4" fill="none"/><text x="600.6" y="1303.0" font-size="23" fill="#008000" letter-spacing="0.31">0.9</text><text x="600.6" y="1469.2" font-size="23" fill="#008000" letter-spacing="0.31">0.6</text><text x="600.6" y="1635.4" font-size="23" fill="#008000" letter-spacing="0.31">0.3</text><text x="620.4" y="1801.6" font-size="23" fill="#008000">0</text><text x="1811.2" y="1303.0" font-size="23" fill="#0000ff">200</text><text x="1811.2" y="1427.7" font-size="23" fill="#0000ff">150</text><text x="1811.2" y="1552.4" font-size="23" fill="#0000ff">100</text><text x="1811.2" y="1677.1" font-size="23" fill="#0000ff">50</text><text x="1811.2" y="1801.8" font-size="23" fill="#0000ff">0</text><text x="551.8" y="1543.8" font-size="24.5" fill="#008000" letter-spacing="-1.18" transform="rotate(-90 579.3 1543.8)">NDVI</text><text x="1795.5" y="1544.0" font-size="25" fill="#0000ff" letter-spacing="0.16" transform="rotate(90 1870.7 1544.0)">Rainfall (mm)</text><text x="674.5" y="1816.4" font-size="22" fill="#666666" transform="rotate(-90 686.7 1816.4)">1</text><text x="705.5" y="1816.4" font-size="22" fill="#666666" transform="rotate(-90 717.7 1816.4)">2</text><text x="736.5" y="1816.4" font-size="22" fill="#666666" transform="rotate(-90 748.7 1816.4)">3</text><text x="767.5" y="1816.4" font-size="22" fill="#666666" transform="rotate(-90 779.7 1816.4)">4</text><text x="798.5" y="1816.4" font-size="22" fill="#666666" transform="rotate(-90 810.7 1816.4)">5</text><text x="829.5" y="1816.4" font-size="22" fill="#666666" transform="rotate(-90 841.7 1816.4)">6</text><text x="860.5" y="1816.4" font-size="22" fill="#666666" transform="rotate(-90 872.7 1816.4)">7</text><text x="891.5" y="1816.4" font-size="22" fill="#666666" transform="rotate(-90 903.7 1816.4)">8</text><text x="922.5" y="1816.4" font-size="22" fill="#666666" transform="rotate(-90 934.7 1816.4)">9</text><text x="941.2" y="1816.4" font-size="22" fill="#666666" transform="rotate(-90 965.7 1816.4)">10</text><text x="973.9" y="1816.4" font-size="22" fill="#666666" transform="rotate(-90 996.7 1816.4)">11</text><text x="1003.2" y="1816.4" font-size="22" fill="#666666" transform="rotate(-90 1027.7 1816.4)">12</text><text x="1034.2" y="1816.4" font-size="22" fill="#666666" transform="rotate(-90 1058.7 1816.4)">13</text><text x="1065.2" y="1816.4" font-size="22" fill="#666666" transform="rotate(-90 1089.7 1816.4)">14</text><text x="1096.2" y="1816.4" font-size="22" fill="#666666" transform="rotate(-90 1120.7 1816.4)">15</text><text x="1127.2" y="1816.4" font-size="22" fill="#666666" transform="rotate(-90 1151.7 1816.4)">16</text><text x="1158.2" y="1816.4" font-size="22" fill="#666666" transform="rotate(-90 1182.7 1816.4)">17</text><text x="1189.2" y="1816.4" font-size="22" fill="#666666" transform="rotate(-90 1213.7 1816.4)">18</text><text x="1220.2" y="1816.4" font-size="22" fill="#666666" transform="rotate(-90 1244.7 1816.4)">19</text><text x="1251.2" y="1816.4" font-size="22" fill="#666666" transform="rotate(-90 1275.7 1816.4)">20</text><text x="1282.2" y="1816.4" font-size="22" fill="#666666" transform="rotate(-90 1306.7 1816.4)">21</text><text x="1313.2" y="1816.4" font-size="22" fill="#666666" transform="rotate(-90 1337.7 1816.4)">22</text><text x="1344.2" y="1816.4" font-size="22" fill="#666666" transform="rotate(-90 1368.7 1816.4)">23</text><text x="1375.2" y="1816.4" font-size="22" fill="#666666" transform="rotate(-90 1399.7 1816.4)">24</text><text x="1406.2" y="1816.4" font-size="22" fill="#666666" transform="rotate(-90 1430.7 1816.4)">25</text><text x="1437.2" y="1816.4" font-size="22" fill="#666666" transform="rotate(-90 1461.7 1816.4)">26</text><text x="1468.2" y="1816.4" font-size="22" fill="#666666" transform="rotate(-90 1492.7 1816.4)">27</text><text x="1499.2" y="1816.4" font-size="22" fill="#666666" transform="rotate(-90 1523.7 1816.4)">28</text><text x="1530.2" y="1816.4" font-size="22" fill="#666666" transform="rotate(-90 1554.7 1816.4)">29</text><text x="1561.2" y="1816.4" font-size="22" fill="#666666" transform="rotate(-90 1585.7 1816.4)">30</text><text x="1592.2" y="1816.4" font-size="22" fill="#666666" transform="rotate(-90 1616.7 1816.4)">31</text><text x="1623.2" y="1816.4" font-size="22" fill="#666666" transform="rotate(-90 1647.7 1816.4)">32</text><text x="1654.2" y="1816.4" font-size="22" fill="#666666" transform="rotate(-90 1678.7 1816.4)">33</text><text x="1685.2" y="1816.4" font-size="22" fill="#666666" transform="rotate(-90 1709.7 1816.4)">34</text><text x="1716.2" y="1816.4" font-size="22" fill="#666666" transform="rotate(-90 1740.7 1816.4)">35</text><text x="1747.2" y="1816.4" font-size="22" fill="#666666" transform="rotate(-90 1771.7 1816.4)">36</text></svg>
<svg style="left:1992px;top:1276px" width="1464" height="640" viewBox="1992 1276 1464 640"><rect x="2134.2" y="1357" width="1288.8000000000002" height="2" fill="#e6e6e6"/><rect x="2134.2" y="1475" width="1288.8000000000002" height="2" fill="#e6e6e6"/><rect x="2134.2" y="1589" width="1288.8000000000002" height="2" fill="#e6e6e6"/><rect x="2134.2" y="1705" width="1288.8000000000002" height="2" fill="#e6e6e6"/><rect x="2142" y="1359.0" width="20" height="459.5" fill="#fff"/><rect x="2144" y="1359.0" width="16" height="459.5" fill="#75bf44"/><rect x="2178" y="1359.0" width="20" height="459.5" fill="#fff"/><rect x="2180" y="1359.0" width="16" height="459.5" fill="#75bf44"/><rect x="2214" y="1389.3" width="20" height="429.2" fill="#fff"/><rect x="2216" y="1389.3" width="16" height="429.2" fill="#75bf44"/><rect x="2250" y="1699.0" width="20" height="119.5" fill="#fff"/><rect x="2252" y="1699.0" width="16" height="119.5" fill="#75bf44"/><rect x="2393" y="1625.5" width="20" height="193.0" fill="#fff"/><rect x="2395" y="1625.5" width="16" height="193.0" fill="#75bf44"/><rect x="2428" y="1365.4" width="20" height="453.1" fill="#fff"/><rect x="2430" y="1365.4" width="16" height="453.1" fill="#75bf44"/><rect x="2464" y="1359.0" width="20" height="459.5" fill="#fff"/><rect x="2466" y="1359.0" width="16" height="459.5" fill="#75bf44"/><rect x="2500" y="1359.0" width="20" height="459.5" fill="#fff"/><rect x="2502" y="1359.0" width="16" height="459.5" fill="#75bf44"/><rect x="2536" y="1359.0" width="20" height="459.5" fill="#fff"/><rect x="2538" y="1359.0" width="16" height="459.5" fill="#75bf44"/><rect x="2571" y="1359.0" width="20" height="459.5" fill="#fff"/><rect x="2573" y="1359.0" width="16" height="459.5" fill="#75bf44"/><rect x="2607" y="1359.0" width="20" height="459.5" fill="#fff"/><rect x="2609" y="1359.0" width="16" height="459.5" fill="#75bf44"/><rect x="2643" y="1359.0" width="20" height="459.5" fill="#fff"/><rect x="2645" y="1359.0" width="16" height="459.5" fill="#75bf44"/><rect x="2679" y="1359.0" width="20" height="459.5" fill="#fff"/><rect x="2681" y="1359.0" width="16" height="459.5" fill="#75bf44"/><rect x="2714" y="1371.4" width="20" height="447.1" fill="#fff"/><rect x="2716" y="1371.4" width="16" height="447.1" fill="#75bf44"/><rect x="2750" y="1453.2" width="20" height="365.3" fill="#fff"/><rect x="2752" y="1453.2" width="16" height="365.3" fill="#75bf44"/><rect x="2786" y="1636.5" width="20" height="182.0" fill="#fff"/><rect x="2788" y="1636.5" width="16" height="182.0" fill="#75bf44"/><rect x="2822" y="1756.0" width="20" height="62.5" fill="#fff"/><rect x="2824" y="1756.0" width="16" height="62.5" fill="#75bf44"/><rect x="2857" y="1792.3" width="20" height="26.2" fill="#fff"/><rect x="2859" y="1792.3" width="16" height="26.2" fill="#75bf44"/><rect x="2893" y="1810.7" width="20" height="7.8" fill="#fff"/><rect x="2895" y="1810.7" width="16" height="7.8" fill="#75bf44"/><rect x="3143" y="1792.3" width="20" height="26.2" fill="#fff"/><rect x="3145" y="1792.3" width="16" height="26.2" fill="#75bf44"/><rect x="3179" y="1462.8" width="20" height="355.7" fill="#fff"/><rect x="3181" y="1462.8" width="16" height="355.7" fill="#75bf44"/><rect x="3215" y="1359.0" width="20" height="459.5" fill="#fff"/><rect x="3217" y="1359.0" width="16" height="459.5" fill="#75bf44"/><rect x="3251" y="1359.0" width="20" height="459.5" fill="#fff"/><rect x="3253" y="1359.0" width="16" height="459.5" fill="#75bf44"/><rect x="3286" y="1359.0" width="20" height="459.5" fill="#fff"/><rect x="3288" y="1359.0" width="16" height="459.5" fill="#75bf44"/><rect x="3322" y="1359.0" width="20" height="459.5" fill="#fff"/><rect x="3324" y="1359.0" width="16" height="459.5" fill="#75bf44"/><rect x="3358" y="1359.0" width="20" height="459.5" fill="#fff"/><rect x="3360" y="1359.0" width="16" height="459.5" fill="#75bf44"/><rect x="3394" y="1359.0" width="20" height="459.5" fill="#fff"/><rect x="3396" y="1359.0" width="16" height="459.5" fill="#75bf44"/><rect x="2132.2" y="1818.5" width="1291.8000000000002" height="2" fill="#ccd6eb"/><path d="M2133,1819.5 L2133,1838.5 M2169,1819.5 L2169,1838.5 M2205,1819.5 L2205,1838.5 M2240,1819.5 L2240,1838.5 M2276,1819.5 L2276,1838.5 M2312,1819.5 L2312,1838.5 M2348,1819.5 L2348,1838.5 M2383,1819.5 L2383,1838.5 M2419,1819.5 L2419,1838.5 M2455,1819.5 L2455,1838.5 M2491,1819.5 L2491,1838.5 M2526,1819.5 L2526,1838.5 M2562,1819.5 L2562,1838.5 M2598,1819.5 L2598,1838.5 M2634,1819.5 L2634,1838.5 M2669,1819.5 L2669,1838.5 M2705,1819.5 L2705,1838.5 M2741,1819.5 L2741,1838.5 M2777,1819.5 L2777,1838.5 M2812,1819.5 L2812,1838.5 M2848,1819.5 L2848,1838.5 M2884,1819.5 L2884,1838.5 M2920,1819.5 L2920,1838.5 M2955,1819.5 L2955,1838.5 M2991,1819.5 L2991,1838.5 M3027,1819.5 L3027,1838.5 M3063,1819.5 L3063,1838.5 M3098,1819.5 L3098,1838.5 M3134,1819.5 L3134,1838.5 M3170,1819.5 L3170,1838.5 M3206,1819.5 L3206,1838.5 M3241,1819.5 L3241,1838.5 M3277,1819.5 L3277,1838.5 M3313,1819.5 L3313,1838.5 M3349,1819.5 L3349,1838.5 M3384,1819.5 L3384,1838.5 M3422,1819.5 L3422,1838.5" stroke="#ccd6eb" stroke-width="2" fill="none"/><text x="2065.2" y="1367.3" font-size="23" fill="#666666">100</text><text x="2078.0" y="1482.3" font-size="23" fill="#666666">75</text><text x="2078.0" y="1597.3" font-size="23" fill="#666666">50</text><text x="2078.0" y="1712.3" font-size="23" fill="#666666">25</text><text x="2090.8" y="1827.3" font-size="23" fill="#666666">0</text><text x="2147.4" y="1841.6" font-size="22" fill="#666666" transform="rotate(-90 2159.6 1841.6)">1</text><text x="2183.1" y="1841.6" font-size="22" fill="#666666" transform="rotate(-90 2195.3 1841.6)">2</text><text x="2218.9" y="1841.6" font-size="22" fill="#666666" transform="rotate(-90 2231.1 1841.6)">3</text><text x="2254.6" y="1841.6" font-size="22" fill="#666666" transform="rotate(-90 2266.8 1841.6)">4</text><text x="2290.4" y="1841.6" font-size="22" fill="#666666" transform="rotate(-90 2302.6 1841.6)">5</text><text x="2326.1" y="1841.6" font-size="22" fill="#666666" transform="rotate(-90 2338.3 1841.6)">6</text><text x="2361.9" y="1841.6" font-size="22" fill="#666666" transform="rotate(-90 2374.1 1841.6)">7</text><text x="2397.6" y="1841.6" font-size="22" fill="#666666" transform="rotate(-90 2409.8 1841.6)">8</text><text x="2433.4" y="1841.6" font-size="22" fill="#666666" transform="rotate(-90 2445.6 1841.6)">9</text><text x="2456.9" y="1841.6" font-size="22" fill="#666666" transform="rotate(-90 2481.3 1841.6)">10</text><text x="2494.3" y="1841.6" font-size="22" fill="#666666" transform="rotate(-90 2517.1 1841.6)">11</text><text x="2528.4" y="1841.6" font-size="22" fill="#666666" transform="rotate(-90 2552.8 1841.6)">12</text><text x="2564.1" y="1841.6" font-size="22" fill="#666666" transform="rotate(-90 2588.6 1841.6)">13</text><text x="2599.9" y="1841.6" font-size="22" fill="#666666" transform="rotate(-90 2624.3 1841.6)">14</text><text x="2635.6" y="1841.6" font-size="22" fill="#666666" transform="rotate(-90 2660.1 1841.6)">15</text><text x="2671.4" y="1841.6" font-size="22" fill="#666666" transform="rotate(-90 2695.8 1841.6)">16</text><text x="2707.1" y="1841.6" font-size="22" fill="#666666" transform="rotate(-90 2731.6 1841.6)">17</text><text x="2742.9" y="1841.6" font-size="22" fill="#666666" transform="rotate(-90 2767.3 1841.6)">18</text><text x="2778.6" y="1841.6" font-size="22" fill="#666666" transform="rotate(-90 2803.1 1841.6)">19</text><text x="2814.4" y="1841.6" font-size="22" fill="#666666" transform="rotate(-90 2838.8 1841.6)">20</text><text x="2850.1" y="1841.6" font-size="22" fill="#666666" transform="rotate(-90 2874.6 1841.6)">21</text><text x="2885.9" y="1841.6" font-size="22" fill="#666666" transform="rotate(-90 2910.3 1841.6)">22</text><text x="2921.6" y="1841.6" font-size="22" fill="#666666" transform="rotate(-90 2946.1 1841.6)">23</text><text x="2957.4" y="1841.6" font-size="22" fill="#666666" transform="rotate(-90 2981.8 1841.6)">24</text><text x="2993.1" y="1841.6" font-size="22" fill="#666666" transform="rotate(-90 3017.6 1841.6)">25</text><text x="3028.9" y="1841.6" font-size="22" fill="#666666" transform="rotate(-90 3053.3 1841.6)">26</text><text x="3064.6" y="1841.6" font-size="22" fill="#666666" transform="rotate(-90 3089.1 1841.6)">27</text><text x="3100.4" y="1841.6" font-size="22" fill="#666666" transform="rotate(-90 3124.8 1841.6)">28</text><text x="3136.1" y="1841.6" font-size="22" fill="#666666" transform="rotate(-90 3160.6 1841.6)">29</text><text x="3171.9" y="1841.6" font-size="22" fill="#666666" transform="rotate(-90 3196.3 1841.6)">30</text><text x="3207.6" y="1841.6" font-size="22" fill="#666666" transform="rotate(-90 3232.1 1841.6)">31</text><text x="3243.4" y="1841.6" font-size="22" fill="#666666" transform="rotate(-90 3267.8 1841.6)">32</text><text x="3279.1" y="1841.6" font-size="22" fill="#666666" transform="rotate(-90 3303.6 1841.6)">33</text><text x="3314.9" y="1841.6" font-size="22" fill="#666666" transform="rotate(-90 3339.3 1841.6)">34</text><text x="3350.6" y="1841.6" font-size="22" fill="#666666" transform="rotate(-90 3375.1 1841.6)">35</text><text x="3386.4" y="1841.6" font-size="22" fill="#666666" transform="rotate(-90 3410.8 1841.6)">36</text><text x="1997.1" y="1589.2" font-size="25" fill="#666666" letter-spacing="-1.15" transform="rotate(-90 2042.4 1589.2)">Area (%)</text><text x="2609.0" y="1316.8" font-size="27.5" fill="#333" letter-spacing="1.20">Active crop area</text><path d="M3390.2,1288.6 L3390.2,1308.6" stroke="#6fb5ea" stroke-width="3.4" fill="none"/><path d="M3381.3999999999996,1305.6 L3399.0,1305.6 L3390.2,1319.1 Z" fill="#6fb5ea"/><path d="M3371.6,1315.1 L3371.6,1327.1 L3408.7999999999997,1327.1 L3408.7999999999997,1315.1" stroke="#6fb5ea" stroke-width="3.4" fill="none"/></svg>
</body></html>
